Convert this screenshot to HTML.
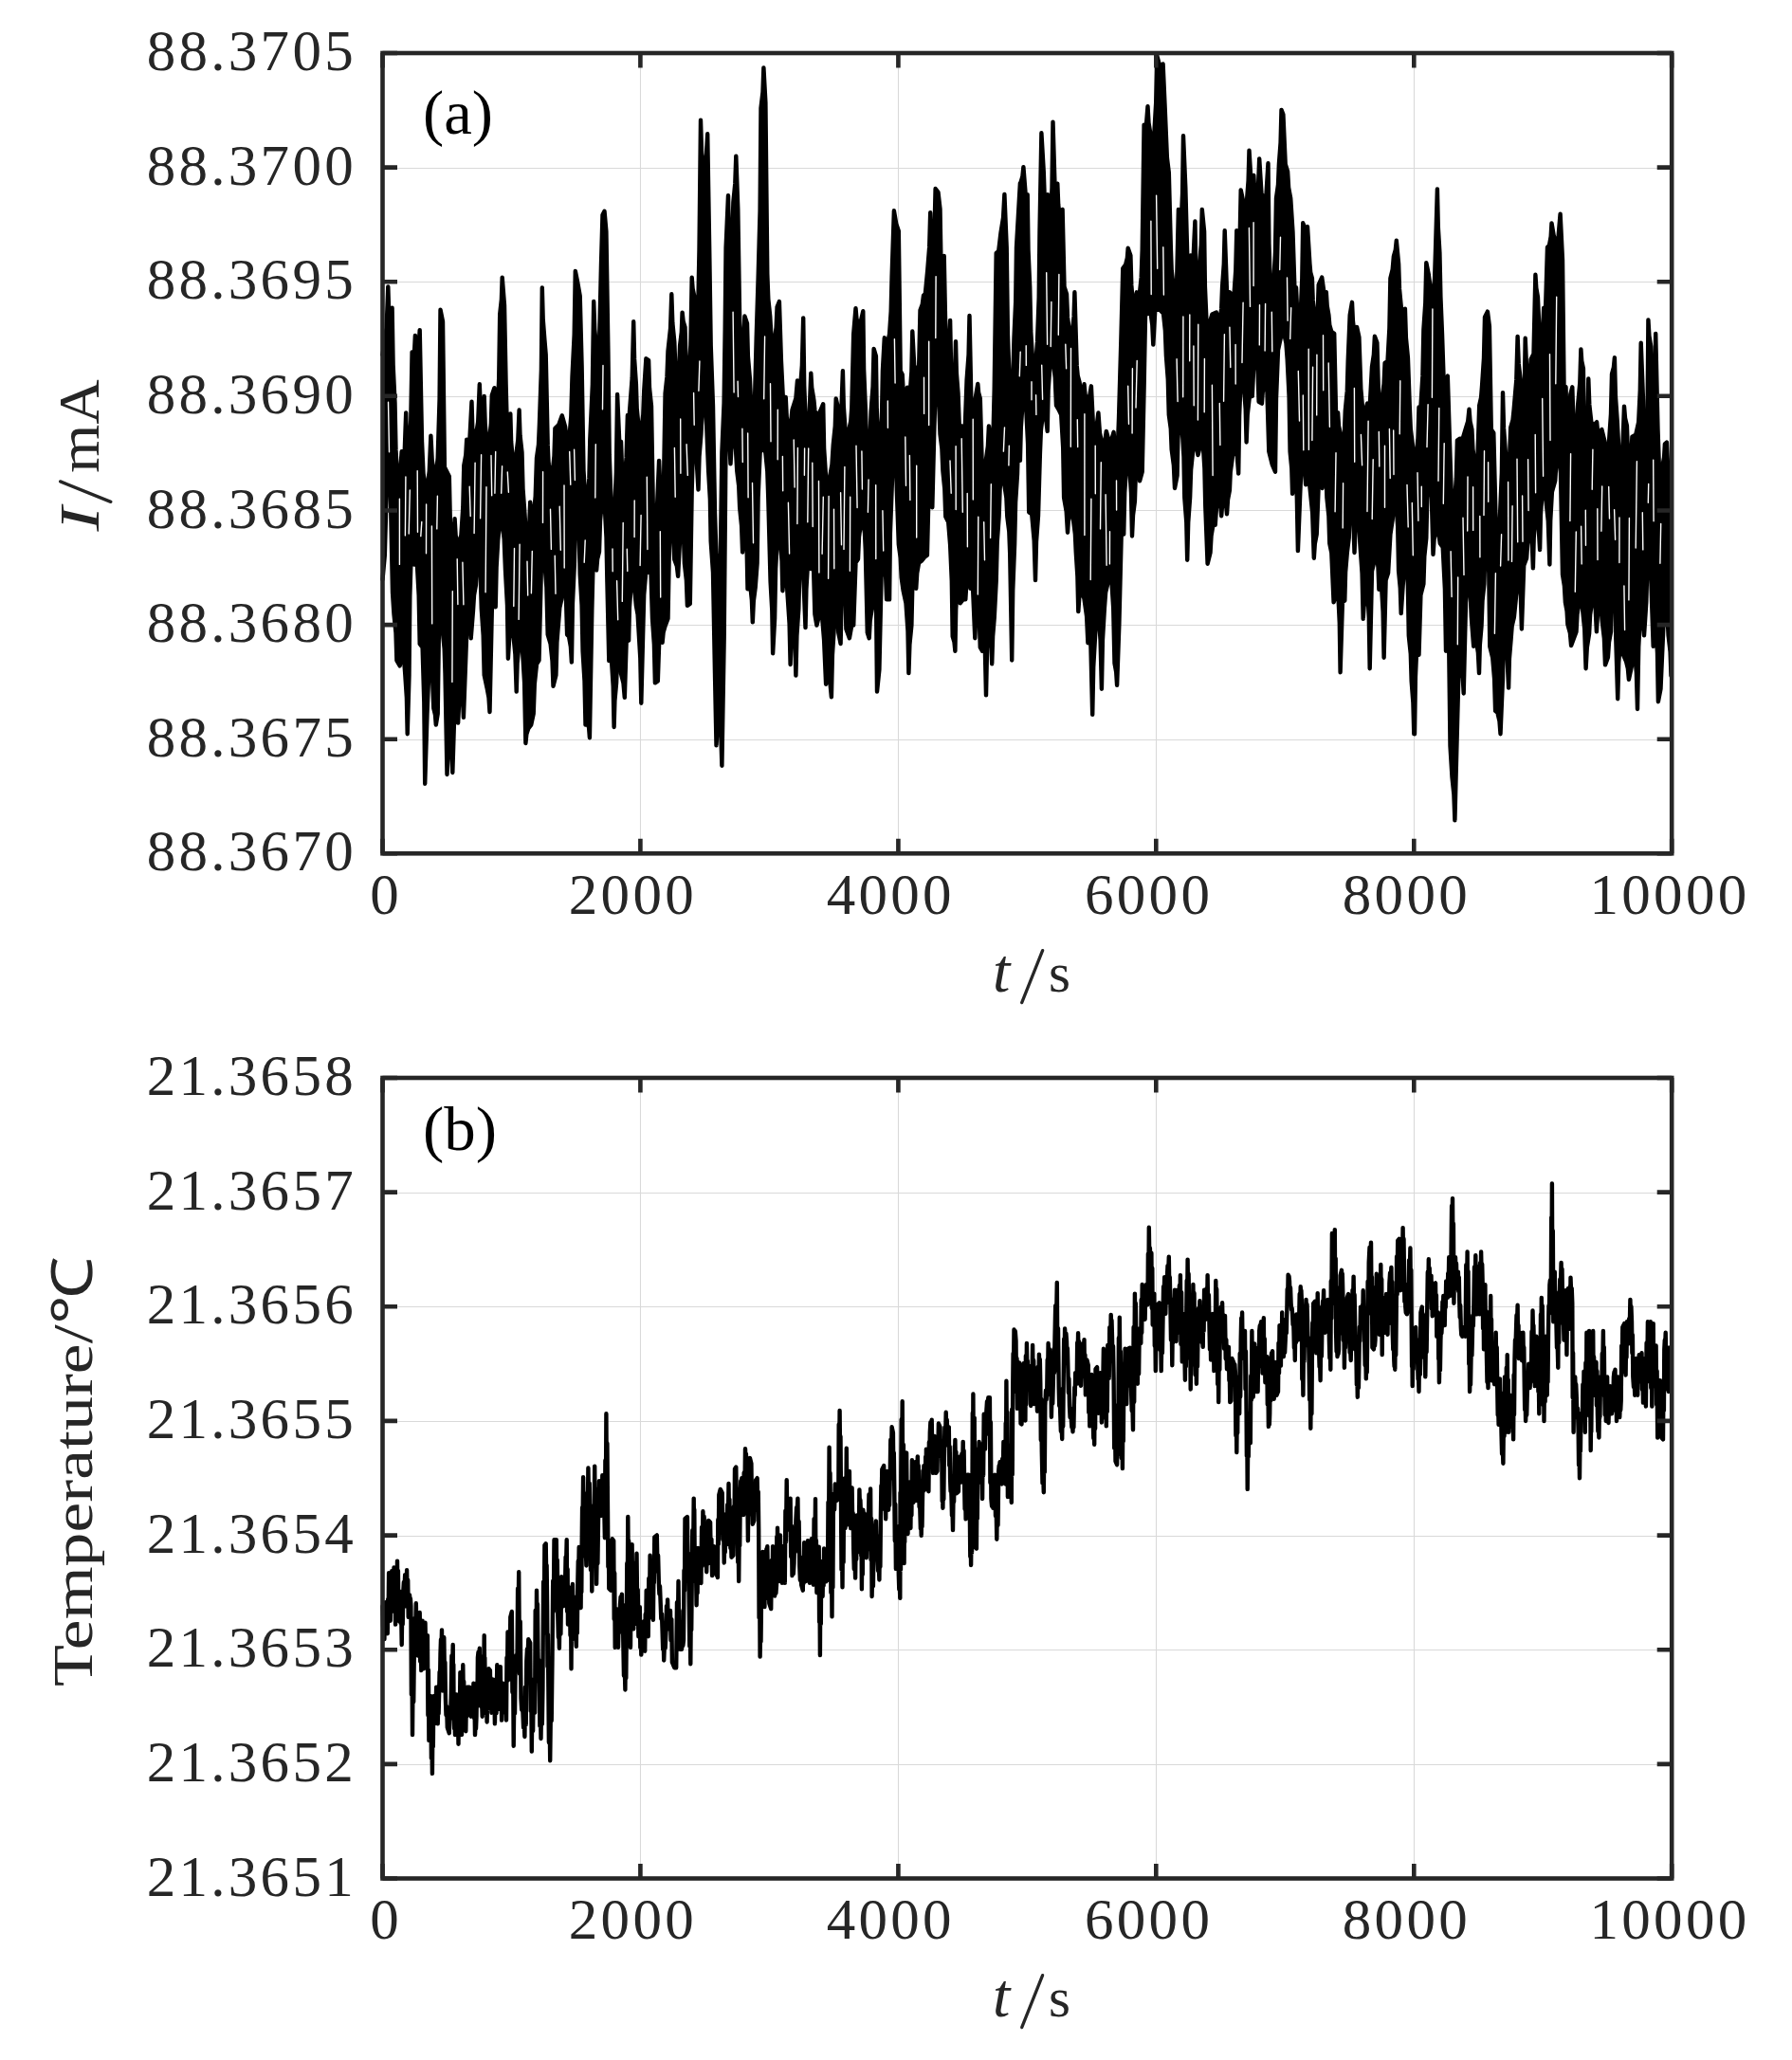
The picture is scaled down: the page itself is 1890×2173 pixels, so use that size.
<!DOCTYPE html><html><head><meta charset="utf-8"><style>html,body{margin:0;padding:0;background:#fff;}svg{display:block}</style></head><body><svg width="1890" height="2173" viewBox="0 0 1890 2173"><rect width="1890" height="2173" fill="#fff"/><g stroke="#d9d9d9" stroke-width="1.1"><line x1="675.5" y1="56.0" x2="675.5" y2="900.3"/><line x1="947.5" y1="56.0" x2="947.5" y2="900.3"/><line x1="1219.5" y1="56.0" x2="1219.5" y2="900.3"/><line x1="1491.5" y1="56.0" x2="1491.5" y2="900.3"/><line x1="403.5" y1="780.5" x2="1763.2" y2="780.5"/><line x1="403.5" y1="659.5" x2="1763.2" y2="659.5"/><line x1="403.5" y1="538.5" x2="1763.2" y2="538.5"/><line x1="403.5" y1="418.5" x2="1763.2" y2="418.5"/><line x1="403.5" y1="297.5" x2="1763.2" y2="297.5"/><line x1="403.5" y1="177.5" x2="1763.2" y2="177.5"/></g><path d="M403.5 374.3 407.7 345.5 409.3 302.4 411.3 366.5 413.6 324.8 414.6 384.8 416.5 424.8 417.5 474.9 419.4 508.3 422.3 495.4 423.7 476.2 425.8 502.4 428.2 435.4 429.0 468.6 430.7 490.8 433.3 443.0 434.6 371.4 436.3 385.9 437.9 353.9 438.7 373.1 440.4 385.9 442.7 348.1 445.0 465.5 446.5 499.3 449.5 521.8 452.8 497.0 454.4 459.7 455.7 485.3 458.3 502.4 460.6 494.7 461.7 483.0 463.6 420.5 464.5 326.7 467.0 339.3 468.9 492.7 473.8 502.4 474.8 549.0 476.7 580.1 478.6 566.9 479.6 547.1 480.6 564.6 482.5 576.2 486.4 564.6 488.3 535.0 489.3 490.8 491.3 479.9 492.2 463.6 495.1 469.4 497.5 423.8 498.3 452.3 500.0 471.4 504.2 445.0 505.8 405.3 507.8 463.6 509.7 445.3 510.7 418.0 511.7 447.7 513.6 467.5 516.1 465.5 517.9 446.1 518.8 417.0 521.4 409.2 522.3 430.2 524.3 444.2 526.2 399.1 527.2 331.6 528.9 316.0 529.7 292.7 532.0 321.8 533.6 405.3 535.9 492.7 538.3 436.4 539.1 465.5 540.8 485.0 543.7 485.0 546.3 464.0 547.6 432.5 548.5 459.3 550.5 477.2 551.5 515.6 553.4 541.3 554.4 557.6 556.3 568.4 558.3 552.9 559.2 529.6 560.2 542.4 562.1 551.0 564.7 523.8 566.0 483.0 568.0 469.0 568.9 448.1 570.9 390.2 571.8 303.4 572.7 336.6 574.4 358.7 575.7 374.3 577.7 469.4 578.6 489.2 580.6 502.4 582.5 500.5 584.5 481.1 585.4 451.9 589.3 448.1 592.8 438.3 596.1 450.0 597.4 460.5 600.0 467.5 602.3 439.5 603.5 397.6 605.7 352.9 606.8 285.9 609.3 298.5 611.7 312.1 613.6 385.9 615.5 496.6 616.8 517.6 619.4 531.6 621.4 504.4 622.3 463.6 624.9 405.3 626.2 318.0 627.2 347.1 629.1 366.5 631.5 378.2 631.7 378.2 634.0 279.1 635.5 226.7 637.5 222.8 639.4 244.2 641.4 370.4 642.7 479.7 645.4 552.5 647.6 552.9 649.9 498.2 651.1 416.0 653.4 470.0 655.0 465.9 656.0 494.1 658.1 512.9 660.6 482.9 661.9 438.0 663.7 438.3 666.7 398.7 668.2 339.3 669.1 378.9 670.9 405.3 671.7 431.0 673.4 448.1 676.3 453.9 678.3 437.6 679.2 413.1 681.4 378.2 684.1 380.1 685.0 409.2 687.0 428.6 688.9 540.1 692.8 540.1 695.1 485.9 697.3 535.4 699.6 535.4 701.6 415.0 703.5 397.2 704.5 370.4 707.1 346.3 708.3 310.2 709.3 340.5 711.3 360.7 712.6 395.6 715.1 418.9 717.1 364.6 718.8 350.6 719.6 329.6 720.6 338.9 722.5 345.1 723.6 384.8 725.8 411.2 728.4 363.8 729.7 292.7 730.6 304.4 732.2 312.1 734.6 347.1 736.5 313.7 737.5 263.6 739.0 126.7 741.4 205.3 742.7 176.2 745.0 162.2 746.2 141.3 748.2 263.6 749.7 364.6 752.0 428.6 754.0 541.1 755.4 584.3 758.3 613.1 759.4 619.5 761.4 477.2 763.6 425.1 764.7 347.1 765.6 261.7 768.0 206.3 768.8 244.2 770.5 269.4 772.4 246.9 773.4 213.1 775.3 193.7 776.3 164.6 778.3 220.9 780.2 341.3 781.2 364.6 783.1 380.1 785.4 333.5 788.0 341.3 788.9 376.2 790.9 399.5 792.8 438.3 795.7 434.5 797.7 356.8 799.6 294.7 801.6 222.4 802.5 114.1 804.5 97.0 805.4 71.4 807.4 108.3 809.3 288.8 810.3 315.6 812.2 333.5 814.2 368.4 816.5 360.7 818.6 345.9 819.6 323.8 821.9 318.0 823.9 380.1 825.8 418.9 828.7 418.9 829.7 439.9 831.7 453.9 834.2 445.3 835.5 432.5 839.4 420.1 841.0 401.5 843.3 418.9 845.9 385.5 847.2 335.4 848.2 406.5 850.1 453.9 853.0 453.9 855.3 393.7 856.2 408.8 857.9 418.9 858.4 422.3 859.4 432.8 861.4 439.8 864.9 434.0 868.2 426.2 869.1 472.8 871.1 503.9 875.0 503.9 877.5 489.9 878.8 468.9 880.8 449.5 881.7 420.4 884.7 434.0 886.6 453.4 888.9 391.3 889.8 428.5 891.5 453.4 895.3 453.4 897.3 444.1 898.3 430.1 900.2 352.4 902.5 325.2 903.4 335.7 905.0 342.7 907.0 342.7 910.3 328.2 911.1 389.3 912.8 430.1 913.8 460.4 915.7 480.6 917.7 461.9 918.6 434.0 920.6 407.6 921.6 368.0 923.9 375.7 924.7 431.7 926.4 468.9 928.3 472.8 930.0 440.2 930.9 391.3 932.8 356.3 935.5 364.1 938.1 352.4 939.7 328.3 940.6 292.2 942.9 222.3 945.2 235.9 947.8 243.7 949.7 391.3 951.7 395.1 952.5 410.3 954.2 420.4 956.9 408.7 959.4 420.4 961.4 392.0 962.3 349.5 964.3 387.4 966.2 387.4 968.2 430.1 970.5 327.2 972.8 321.0 974.0 311.7 975.9 309.7 978.3 284.5 980.2 260.4 981.2 224.3 982.0 251.1 983.7 268.9 985.6 241.0 986.6 199.0 989.5 202.9 991.5 220.4 993.4 333.0 995.7 269.9 997.7 371.8 1000.2 375.7 1002.1 337.9 1003.1 388.5 1005.0 422.3 1007.0 397.5 1008.0 360.2 1008.8 392.8 1010.5 414.6 1011.8 449.5 1014.8 449.5 1017.7 453.4 1019.6 401.0 1021.6 373.8 1022.5 333.0 1024.5 430.1 1027.4 428.2 1029.3 416.5 1031.3 404.9 1032.1 414.2 1033.8 420.4 1036.1 503.9 1038.7 496.1 1040.0 484.5 1041.9 470.5 1042.9 449.5 1043.9 463.5 1045.8 472.8 1047.8 448.0 1048.7 410.7 1050.7 267.0 1053.2 265.0 1055.5 245.6 1058.1 229.3 1059.4 204.9 1061.7 261.2 1062.9 352.4 1065.2 420.4 1067.2 439.8 1069.5 356.3 1071.2 318.3 1072.0 261.2 1074.0 226.2 1075.9 193.2 1076.5 192.7 1078.4 186.1 1079.4 176.2 1081.7 205.3 1083.7 205.3 1084.5 263.6 1086.2 302.4 1087.2 349.0 1089.1 380.1 1091.1 384.0 1093.0 374.7 1094.0 360.7 1095.7 314.1 1096.5 244.2 1098.4 140.3 1100.8 182.0 1102.7 238.3 1105.0 205.3 1105.9 228.6 1107.6 244.2 1109.5 198.0 1110.5 128.6 1112.8 205.3 1115.3 193.7 1116.2 215.8 1117.9 230.6 1120.6 220.9 1122.5 302.4 1125.0 310.2 1126.0 334.7 1128.0 351.0 1130.9 351.0 1132.6 333.9 1133.4 308.3 1135.7 385.9 1136.7 396.4 1138.6 403.4 1139.6 412.7 1141.6 418.9 1143.5 405.3 1144.5 415.8 1146.4 422.8 1149.4 416.6 1150.9 407.3 1153.2 453.9 1156.1 453.9 1158.4 435.4 1159.9 456.4 1162.9 470.4 1165.5 464.2 1166.8 454.9 1170.7 469.4 1174.6 455.8 1175.5 468.6 1177.5 477.2 1179.2 462.8 1180.0 441.3 1182.3 360.7 1184.3 283.0 1187.2 279.1 1188.9 272.1 1189.7 261.7 1192.4 269.4 1193.3 300.9 1195.0 321.8 1196.9 318.0 1198.8 308.3 1201.7 312.1 1203.7 292.7 1204.7 263.6 1206.6 131.6 1208.5 137.4 1210.5 112.1 1211.5 129.6 1213.4 141.3 1215.3 176.2 1217.3 141.3 1219.2 108.3 1220.2 58.7 1223.1 69.4 1226.6 67.5 1228.5 110.2 1230.9 166.5 1232.8 182.0 1234.8 259.7 1235.7 285.3 1237.7 302.4 1238.6 314.1 1240.6 321.8 1242.9 220.9 1243.8 234.9 1245.4 244.2 1247.1 203.8 1248.0 143.2 1250.3 197.6 1252.6 283.0 1255.7 269.4 1258.1 283.0 1260.4 233.5 1261.2 281.8 1262.9 314.1 1264.9 283.0 1266.8 258.2 1267.8 220.9 1270.1 244.2 1270.9 302.4 1272.6 341.3 1275.5 341.3 1278.4 331.6 1282.9 329.6 1286.2 341.3 1288.2 325.7 1289.1 302.4 1290.8 278.7 1291.7 243.2 1294.0 308.3 1296.9 308.3 1297.5 309.1 1301.4 313.0 1303.3 285.0 1304.3 243.1 1305.2 261.7 1307.2 274.2 1308.7 200.4 1311.1 212.0 1313.0 237.3 1315.0 212.0 1316.6 190.7 1317.5 158.6 1319.8 196.5 1322.3 184.9 1323.2 202.3 1325.0 214.0 1327.1 195.3 1328.2 167.4 1330.5 204.3 1332.8 208.2 1335.3 208.2 1337.5 172.2 1338.4 256.7 1340.2 313.0 1343.1 303.3 1345.0 265.6 1346.0 209.1 1348.0 194.8 1348.9 173.2 1350.6 150.3 1351.5 115.9 1353.4 120.8 1355.7 173.2 1358.1 181.0 1359.1 197.9 1361.2 209.1 1363.5 245.0 1365.4 303.3 1367.0 303.3 1369.3 351.8 1371.7 332.4 1373.3 293.6 1374.2 235.3 1376.7 241.2 1379.0 239.2 1381.4 278.1 1382.2 287.4 1383.9 293.6 1384.7 316.9 1386.4 332.4 1388.7 361.6 1390.7 300.4 1394.2 292.6 1396.5 309.1 1398.8 308.2 1399.7 322.7 1401.4 332.4 1402.3 342.9 1404.3 349.9 1407.2 351.8 1409.1 439.2 1411.1 435.3 1412.0 449.3 1414.0 458.6 1415.0 473.8 1416.9 483.9 1418.8 433.4 1420.8 412.4 1421.7 381.0 1423.7 332.4 1426.0 318.8 1426.9 338.6 1428.5 351.8 1431.1 345.0 1433.4 355.7 1435.3 410.1 1437.3 433.4 1439.2 435.3 1442.1 425.6 1444.7 429.5 1447.0 386.8 1448.9 374.0 1449.9 354.8 1452.4 361.6 1454.8 445.0 1456.7 435.0 1457.7 419.8 1459.6 405.0 1460.6 382.9 1463.5 381.0 1465.4 346.0 1466.4 293.6 1468.7 284.3 1469.9 270.3 1471.8 263.7 1472.8 253.8 1475.1 278.1 1476.0 304.9 1477.7 322.7 1480.0 351.8 1481.9 325.6 1482.9 356.5 1484.9 377.1 1486.8 429.5 1487.8 452.8 1489.7 468.3 1491.0 477.7 1493.6 483.9 1495.5 462.1 1496.5 429.5 1498.4 429.5 1500.4 396.9 1501.4 348.0 1503.3 319.6 1504.3 277.1 1506.8 289.7 1509.1 307.2 1511.5 313.0 1513.1 293.6 1514.0 264.5 1515.9 199.4 1516.8 239.6 1518.4 266.4 1519.4 313.1 1521.0 351.9 1522.9 408.3 1526.8 396.6 1529.1 470.4 1531.1 530.6 1534.0 530.6 1535.9 504.2 1536.9 464.6 1539.8 462.6 1542.7 462.6 1545.6 452.9 1548.2 444.4 1549.5 431.6 1550.5 444.4 1552.4 452.9 1553.4 473.9 1555.3 487.9 1557.9 499.5 1560.2 427.7 1562.1 419.1 1563.1 406.3 1565.0 377.6 1566.0 334.5 1568.9 328.6 1570.9 344.2 1572.8 452.9 1575.3 456.8 1577.7 553.9 1581.6 553.9 1583.9 498.0 1585.0 414.1 1586.0 451.4 1587.8 476.2 1588.6 490.2 1590.3 499.5 1592.2 480.1 1593.2 451.0 1595.5 443.2 1596.7 431.6 1599.3 400.9 1600.6 354.9 1601.7 383.4 1603.9 402.4 1605.8 451.0 1607.8 413.3 1608.7 356.8 1611.1 412.1 1613.4 398.9 1614.6 379.1 1617.5 373.3 1619.4 289.8 1620.3 303.8 1621.9 313.1 1624.3 369.4 1626.2 369.4 1628.2 324.8 1630.1 324.8 1632.0 260.7 1634.0 258.7 1635.7 249.4 1636.5 235.4 1638.8 249.0 1641.4 256.8 1643.3 252.9 1645.6 225.7 1648.0 274.3 1649.5 406.3 1651.5 408.3 1652.4 439.7 1654.4 460.7 1656.3 416.0 1658.3 408.3 1659.2 437.4 1661.2 456.8 1663.1 445.1 1664.1 427.7 1666.3 404.0 1667.4 368.4 1668.2 380.7 1669.9 388.8 1670.7 449.4 1672.4 489.8 1674.4 453.7 1675.3 399.5 1676.3 426.9 1678.3 445.1 1680.6 449.0 1684.1 445.1 1685.0 454.5 1686.8 460.7 1689.3 452.9 1692.2 464.6 1694.2 480.1 1696.1 473.9 1697.1 464.6 1699.0 436.6 1700.0 394.7 1701.9 387.7 1702.9 377.2 1703.9 418.0 1705.8 445.1 1708.2 491.7 1710.7 491.7 1713.0 428.6 1714.0 440.9 1715.9 449.0 1716.8 474.7 1718.4 491.7 1720.4 479.3 1721.4 460.7 1725.2 458.7 1728.2 445.1 1729.8 411.7 1730.7 361.7 1733.0 421.8 1734.0 468.4 1735.9 499.5 1737.6 434.7 1738.4 337.4 1739.4 354.3 1741.2 365.5 1742.0 399.3 1743.7 421.8 1745.4 393.9 1746.2 351.9 1748.5 452.9 1750.5 511.2 1752.4 503.4 1753.4 491.7 1755.1 482.4 1755.9 468.4 1757.9 466.5 1760.2 517.0 1762.5 517.0 1763.2 517.0 1763.2 713.0 1762.5 713.0 1761.6 687.4 1759.6 670.3 1758.6 649.3 1756.7 635.3 1754.8 650.9 1753.8 674.2 1751.5 726.6 1748.9 740.2 1748.0 688.9 1746.0 654.8 1743.7 681.9 1742.1 635.3 1739.8 561.6 1737.5 591.1 1736.3 635.3 1734.0 670.3 1732.8 651.7 1730.5 639.2 1728.2 682.7 1727.0 748.0 1725.9 709.5 1723.7 683.9 1721.7 691.7 1720.8 703.3 1717.9 716.9 1716.9 705.2 1715.0 697.5 1711.5 689.7 1709.1 674.2 1707.2 699.4 1706.2 737.3 1704.3 674.2 1702.3 567.4 1700.1 607.0 1699.0 666.4 1697.0 677.3 1695.9 693.6 1693.0 701.4 1691.9 673.4 1689.7 654.8 1688.7 643.1 1686.8 635.3 1684.9 647.8 1683.9 666.4 1681.9 625.6 1679.0 635.3 1677.1 648.5 1676.1 668.3 1673.8 683.1 1672.6 705.2 1671.2 663.3 1668.3 635.3 1665.4 635.3 1663.5 647.8 1662.5 666.4 1659.6 674.2 1657.1 681.0 1655.9 667.6 1653.4 658.6 1652.6 644.7 1650.9 635.3 1649.9 617.9 1648.0 606.2 1646.0 499.4 1645.0 487.8 1643.1 480.0 1641.2 490.9 1640.2 507.2 1636.9 518.8 1635.2 549.5 1634.4 595.5 1632.8 549.5 1629.5 518.8 1626.6 518.8 1624.9 543.3 1624.1 580.0 1621.7 538.3 1619.4 546.0 1617.7 567.4 1616.9 599.4 1615.9 574.4 1614.0 557.7 1611.4 570.1 1610.1 588.7 1607.2 596.5 1604.9 663.5 1603.9 629.1 1601.9 606.2 1599.9 616.3 1598.8 631.5 1596.9 650.9 1594.7 660.2 1593.6 674.2 1591.9 694.8 1591.1 725.6 1588.7 674.2 1586.8 615.9 1584.9 716.9 1582.5 774.2 1581.5 760.8 1579.4 751.8 1577.1 749.9 1576.1 716.1 1574.2 693.6 1571.3 681.9 1570.3 605.0 1568.3 553.8 1566.4 578.6 1565.4 615.9 1563.5 633.8 1562.5 660.6 1560.8 680.4 1560.0 710.1 1558.9 688.5 1556.7 674.2 1554.2 681.9 1551.8 650.9 1550.9 629.9 1548.9 615.9 1547.0 623.7 1546.0 635.3 1543.7 731.5 1542.8 714.6 1541.2 703.3 1538.3 715.0 1536.3 790.7 1534.4 865.4 1533.4 838.1 1531.5 819.8 1529.5 786.8 1527.6 635.3 1525.9 655.9 1525.0 686.8 1523.9 621.0 1521.7 577.1 1518.8 573.2 1517.5 563.9 1515.0 557.7 1512.6 568.5 1511.5 584.9 1509.1 495.5 1507.2 499.4 1505.2 526.6 1504.3 567.4 1502.3 586.8 1501.4 615.9 1498.4 627.6 1496.5 690.7 1494.6 674.2 1492.9 714.2 1492.0 774.2 1491.3 774.1 1490.4 741.0 1488.7 718.9 1487.8 689.8 1485.8 670.4 1484.9 618.0 1482.9 583.0 1481.0 594.7 1480.0 612.1 1477.7 647.1 1476.8 620.3 1475.1 602.4 1474.2 555.8 1472.2 524.8 1469.9 534.1 1468.7 548.1 1466.4 563.6 1464.1 604.4 1461.6 612.1 1459.6 693.7 1458.6 644.8 1456.7 612.1 1454.4 621.8 1453.5 598.5 1451.8 583.0 1449.3 592.7 1447.0 602.4 1444.7 705.3 1443.8 651.7 1442.1 616.0 1440.2 631.6 1438.5 640.1 1437.7 652.9 1436.6 605.1 1434.4 573.3 1433.4 553.5 1431.5 540.3 1429.5 557.4 1428.5 583.0 1427.4 548.1 1425.2 524.8 1423.6 541.8 1422.7 567.5 1420.8 583.0 1419.1 603.2 1418.3 633.5 1415.9 635.4 1413.6 709.2 1412.8 656.8 1411.1 621.8 1409.1 627.7 1406.6 635.4 1404.3 583.0 1402.3 573.3 1401.4 544.2 1399.4 524.8 1397.5 466.5 1395.5 485.9 1394.6 515.0 1391.1 501.5 1388.7 563.6 1386.8 573.7 1385.8 588.8 1384.2 541.1 1381.0 509.2 1377.1 511.2 1376.1 496.0 1374.2 485.9 1372.2 499.1 1371.3 518.9 1368.9 581.1 1367.8 524.0 1365.4 485.9 1363.1 520.9 1362.3 494.1 1360.6 476.2 1359.6 418.0 1357.7 379.1 1356.4 361.7 1353.8 350.0 1350.9 355.8 1348.0 369.4 1346.0 420.7 1345.0 497.6 1341.7 489.8 1338.3 476.2 1336.3 408.3 1333.4 406.3 1331.7 414.1 1330.9 425.7 1327.6 423.8 1326.6 391.2 1324.7 369.4 1322.1 388.8 1320.8 418.0 1317.9 418.0 1315.7 437.4 1314.6 466.5 1313.7 431.6 1312.0 408.3 1308.7 398.5 1307.1 438.9 1306.2 499.5 1304.9 482.0 1302.3 470.4 1300.4 476.6 1299.4 485.9 1297.7 498.3 1296.9 517.0 1296.9 517.0 1295.0 527.1 1294.0 542.2 1293.0 531.7 1291.1 524.8 1289.1 532.5 1288.2 544.2 1287.2 532.5 1285.2 524.8 1282.9 536.4 1281.7 553.9 1279.4 553.9 1277.5 565.5 1276.5 583.0 1273.6 594.7 1271.3 534.5 1270.4 493.7 1268.7 466.5 1265.8 470.4 1263.5 480.1 1261.0 466.5 1258.1 476.2 1256.1 495.6 1255.1 524.8 1253.2 551.2 1252.2 590.8 1251.3 551.2 1249.3 524.8 1248.5 481.7 1246.8 452.9 1245.9 443.6 1244.1 437.4 1242.4 463.0 1241.6 501.5 1239.0 515.0 1237.9 490.6 1235.7 474.3 1234.8 452.1 1232.8 437.4 1231.8 400.1 1229.9 375.2 1228.9 348.4 1227.0 330.6 1223.1 326.7 1218.3 326.7 1216.3 363.6 1215.3 342.6 1213.4 328.6 1208.0 332.5 1206.6 408.3 1204.7 497.6 1202.1 507.3 1201.2 494.5 1199.4 485.9 1197.7 503.0 1196.9 528.6 1195.0 543.4 1194.0 565.5 1193.0 520.1 1191.1 489.8 1188.2 489.8 1186.2 519.3 1185.2 563.6 1182.7 563.6 1180.4 656.8 1178.1 722.8 1177.2 708.8 1175.5 699.5 1174.2 641.3 1171.7 602.4 1168.7 614.1 1166.1 625.0 1164.9 641.3 1162.9 675.4 1161.9 726.7 1160.6 675.4 1158.1 641.3 1156.1 652.9 1155.1 670.4 1153.2 703.8 1152.2 753.9 1150.3 676.2 1147.4 678.2 1146.1 650.2 1143.5 631.6 1140.0 621.8 1138.2 631.2 1137.3 645.1 1136.4 607.9 1134.8 583.0 1133.9 563.2 1132.2 550.0 1128.9 536.4 1127.0 546.5 1126.0 561.7 1124.7 539.5 1122.1 524.8 1121.2 472.3 1119.2 437.4 1116.3 431.6 1114.0 427.7 1112.8 398.5 1110.5 379.1 1107.6 383.0 1105.6 411.7 1104.7 454.9 1102.7 437.4 1099.8 437.4 1097.9 453.7 1096.9 478.2 1095.0 544.2 1093.0 571.4 1092.0 612.1 1090.7 570.2 1088.2 542.2 1085.2 540.3 1084.1 468.1 1081.7 419.9 1078.4 427.7 1076.8 451.0 1075.9 485.9 1075.9 438.3 1074.0 463.1 1073.0 500.4 1071.1 529.9 1070.1 574.2 1068.2 623.1 1067.2 696.5 1065.2 583.9 1064.3 560.6 1062.3 545.0 1061.4 525.2 1059.4 512.0 1058.4 502.7 1056.5 496.5 1054.6 515.9 1053.6 545.0 1051.7 572.2 1050.7 613.0 1048.7 651.8 1047.1 671.3 1046.2 700.4 1045.1 671.3 1042.9 651.8 1041.0 684.5 1040.0 733.4 1038.1 651.8 1036.1 686.8 1033.8 682.9 1032.9 652.6 1031.3 632.4 1029.3 648.7 1028.3 673.2 1026.0 618.8 1023.5 620.8 1022.5 604.5 1020.6 593.6 1018.3 632.4 1015.7 632.4 1012.8 636.3 1011.8 622.3 1009.9 613.0 1008.2 642.5 1007.4 686.8 1006.5 677.5 1004.7 671.3 1003.8 613.0 1002.1 574.2 1000.2 550.9 997.3 545.0 996.3 515.9 994.4 496.5 993.4 473.2 991.5 457.7 990.3 425.0 988.0 403.3 986.1 425.0 985.2 457.7 983.3 535.3 982.1 517.9 979.8 506.2 977.9 585.8 975.0 587.8 972.0 591.7 969.1 593.6 967.2 604.5 966.2 620.8 965.2 592.8 963.3 574.2 961.4 659.6 959.4 679.8 958.4 710.1 957.5 665.8 955.5 636.3 952.6 622.7 950.7 609.1 949.7 588.2 947.8 574.2 945.8 515.9 944.9 481.0 942.9 457.7 940.6 515.9 938.9 562.5 938.1 632.4 935.1 632.4 934.2 609.1 932.2 593.6 929.7 603.3 927.4 706.2 925.0 729.5 924.2 649.1 922.5 595.5 920.6 614.2 919.6 642.1 917.7 654.6 916.7 673.2 914.8 667.4 912.8 580.0 912.0 562.5 910.3 550.9 908.0 550.9 906.0 566.4 905.0 589.7 902.5 593.6 900.2 659.6 898.3 659.6 895.9 673.2 892.4 663.5 891.5 623.9 889.5 597.5 887.6 630.1 886.6 679.0 884.3 667.4 883.4 640.6 881.7 622.7 879.8 661.6 877.9 691.1 876.9 735.3 875.7 722.5 873.4 714.0 871.1 721.7 869.1 675.1 867.2 651.8 864.3 648.0 861.4 659.6 859.4 648.0 857.9 593.6 857.9 594.2 855.0 600.0 852.0 594.2 850.4 621.4 849.5 662.1 847.2 603.9 845.2 574.8 843.3 601.9 842.3 642.7 840.4 670.7 839.4 712.6 838.4 676.5 836.5 652.4 834.6 671.8 833.6 701.0 832.6 657.9 830.7 629.1 829.8 614.0 828.2 603.9 826.3 611.7 825.4 623.3 824.6 591.8 822.9 570.9 820.0 565.0 818.1 600.0 817.1 652.4 815.1 689.3 814.3 643.9 812.6 613.6 810.3 526.2 809.3 497.1 807.4 477.7 804.5 469.9 801.6 477.7 799.6 524.3 798.6 594.2 796.7 619.4 794.8 634.2 793.8 656.3 792.9 633.0 791.3 617.5 788.5 621.4 787.7 581.7 786.0 555.3 784.1 566.2 783.1 582.5 782.1 554.6 780.2 535.9 779.2 512.6 777.3 497.1 776.0 473.8 773.4 458.3 771.5 470.7 770.5 489.3 769.5 468.3 767.6 454.4 765.6 458.3 763.7 671.8 761.4 807.8 760.2 769.3 757.9 743.7 755.5 786.4 754.0 710.7 752.0 603.9 749.7 570.9 748.9 526.6 747.2 497.1 745.2 448.5 744.3 433.4 742.3 423.3 740.4 437.3 739.4 458.3 737.5 481.6 736.5 516.5 734.6 483.5 732.2 464.1 730.6 485.0 729.7 516.5 727.8 636.9 724.9 638.8 723.9 612.0 721.9 594.2 720.0 532.0 718.1 546.8 717.1 568.9 715.1 607.8 713.9 597.3 711.3 590.3 708.9 545.6 706.4 547.6 704.5 652.4 701.6 660.2 699.6 667.2 698.6 677.7 697.7 668.3 695.7 662.1 693.8 718.4 690.9 720.4 689.9 679.6 688.0 652.4 686.0 586.4 684.1 603.9 681.2 603.9 679.2 627.2 678.3 662.1 676.3 741.7 675.3 694.0 673.4 662.1 672.6 648.2 670.9 638.8 668.5 613.6 665.6 617.5 663.9 640.8 663.1 675.7 660.8 671.8 658.8 735.9 657.5 720.8 655.0 710.7 654.0 685.0 652.0 668.0 650.1 720.4 648.4 739.0 647.6 767.0 646.7 723.9 644.9 695.1 642.3 697.1 640.4 613.6 639.5 567.0 637.9 535.9 637.9 527.7 635.0 527.7 633.0 549.4 632.0 582.0 630.1 589.8 629.1 601.5 628.2 580.5 626.2 566.5 624.3 644.2 621.9 778.2 621.1 767.7 619.4 760.7 617.5 764.6 616.5 718.0 614.6 686.9 613.6 638.0 611.7 605.3 610.7 561.1 608.7 531.6 606.8 557.2 605.8 595.6 603.9 636.8 602.9 698.5 601.9 682.2 600.0 671.4 598.1 669.4 597.1 634.5 595.1 611.2 593.2 619.7 592.2 632.5 590.3 641.1 589.3 653.9 587.4 677.2 586.4 712.1 583.5 723.8 582.5 697.0 580.6 679.1 577.7 669.4 576.4 619.3 573.8 585.9 570.9 597.6 568.5 696.6 566.0 700.5 563.8 721.5 562.7 752.9 560.2 764.6 557.3 768.4 555.3 774.7 554.4 784.0 553.1 719.9 550.5 677.2 547.6 679.1 545.6 699.3 544.7 729.6 543.4 690.0 540.8 663.6 538.3 653.9 535.9 694.7 535.0 638.7 533.0 601.5 531.7 568.8 529.1 547.1 526.5 556.4 525.2 570.4 523.6 598.3 522.7 640.3 520.4 620.9 518.8 644.2 516.5 751.0 515.5 735.8 513.6 725.7 510.7 712.1 509.7 670.2 507.8 642.2 506.8 608.4 504.9 585.9 502.9 598.3 501.9 617.0 500.0 627.9 499.0 644.2 496.7 673.3 495.9 659.3 494.2 650.0 492.2 667.1 491.3 692.7 488.9 756.8 487.8 731.2 485.4 714.1 483.1 762.6 481.9 749.8 479.6 741.3 477.3 815.0 476.1 787.1 473.8 768.4 471.5 817.0 469.5 710.2 468.7 684.6 467.0 667.5 466.0 612.7 464.1 576.2 461.7 752.9 459.8 764.6 459.0 754.1 457.3 747.1 455.3 694.7 452.4 706.3 450.5 752.9 448.2 826.7 447.3 740.5 445.6 683.0 442.7 679.1 441.7 627.9 439.8 593.7 436.9 595.6 435.9 582.8 434.0 574.3 432.3 629.4 431.5 712.1 429.7 774.3 428.9 735.8 427.2 710.2 426.2 697.4 424.3 688.8 421.7 702.4 418.4 696.6 417.5 667.5 415.5 648.1 414.0 624.8 411.7 512.1 407.8 514.1 405.8 585.9 403.5 611.2 403.5 611.2Z" fill="#000" stroke="none"/><path d="M403.5 374.3 407.7 345.5 409.3 302.4 411.3 366.5 413.6 324.8 414.6 384.8 416.5 424.8 417.5 474.9 419.4 508.3 422.3 495.4 423.7 476.2 425.8 502.4 428.2 435.4 429.0 468.6 430.7 490.8 433.3 443.0 434.6 371.4 436.3 385.9 437.9 353.9 438.7 373.1 440.4 385.9 442.7 348.1 445.0 465.5 446.5 499.3 449.5 521.8 452.8 497.0 454.4 459.7 455.7 485.3 458.3 502.4 460.6 494.7 461.7 483.0 463.6 420.5 464.5 326.7 467.0 339.3 468.9 492.7 473.8 502.4 474.8 549.0 476.7 580.1 478.6 566.9 479.6 547.1 480.6 564.6 482.5 576.2 486.4 564.6 488.3 535.0 489.3 490.8 491.3 479.9 492.2 463.6 495.1 469.4 497.5 423.8 498.3 452.3 500.0 471.4 504.2 445.0 505.8 405.3 507.8 463.6 509.7 445.3 510.7 418.0 511.7 447.7 513.6 467.5 516.1 465.5 517.9 446.1 518.8 417.0 521.4 409.2 522.3 430.2 524.3 444.2 526.2 399.1 527.2 331.6 528.9 316.0 529.7 292.7 532.0 321.8 533.6 405.3 535.9 492.7 538.3 436.4 539.1 465.5 540.8 485.0 543.7 485.0 546.3 464.0 547.6 432.5 548.5 459.3 550.5 477.2 551.5 515.6 553.4 541.3 554.4 557.6 556.3 568.4 558.3 552.9 559.2 529.6 560.2 542.4 562.1 551.0 564.7 523.8 566.0 483.0 568.0 469.0 568.9 448.1 570.9 390.2 571.8 303.4 572.7 336.6 574.4 358.7 575.7 374.3 577.7 469.4 578.6 489.2 580.6 502.4 582.5 500.5 584.5 481.1 585.4 451.9 589.3 448.1 592.8 438.3 596.1 450.0 597.4 460.5 600.0 467.5 602.3 439.5 603.5 397.6 605.7 352.9 606.8 285.9 609.3 298.5 611.7 312.1 613.6 385.9 615.5 496.6 616.8 517.6 619.4 531.6 621.4 504.4 622.3 463.6 624.9 405.3 626.2 318.0 627.2 347.1 629.1 366.5 631.5 378.2 631.7 378.2 634.0 279.1 635.5 226.7 637.5 222.8 639.4 244.2 641.4 370.4 642.7 479.7 645.4 552.5 647.6 552.9 649.9 498.2 651.1 416.0 653.4 470.0 655.0 465.9 656.0 494.1 658.1 512.9 660.6 482.9 661.9 438.0 663.7 438.3 666.7 398.7 668.2 339.3 669.1 378.9 670.9 405.3 671.7 431.0 673.4 448.1 676.3 453.9 678.3 437.6 679.2 413.1 681.4 378.2 684.1 380.1 685.0 409.2 687.0 428.6 688.9 540.1 692.8 540.1 695.1 485.9 697.3 535.4 699.6 535.4 701.6 415.0 703.5 397.2 704.5 370.4 707.1 346.3 708.3 310.2 709.3 340.5 711.3 360.7 712.6 395.6 715.1 418.9 717.1 364.6 718.8 350.6 719.6 329.6 720.6 338.9 722.5 345.1 723.6 384.8 725.8 411.2 728.4 363.8 729.7 292.7 730.6 304.4 732.2 312.1 734.6 347.1 736.5 313.7 737.5 263.6 739.0 126.7 741.4 205.3 742.7 176.2 745.0 162.2 746.2 141.3 748.2 263.6 749.7 364.6 752.0 428.6 754.0 541.1 755.4 584.3 758.3 613.1 759.4 619.5 761.4 477.2 763.6 425.1 764.7 347.1 765.6 261.7 768.0 206.3 768.8 244.2 770.5 269.4 772.4 246.9 773.4 213.1 775.3 193.7 776.3 164.6 778.3 220.9 780.2 341.3 781.2 364.6 783.1 380.1 785.4 333.5 788.0 341.3 788.9 376.2 790.9 399.5 792.8 438.3 795.7 434.5 797.7 356.8 799.6 294.7 801.6 222.4 802.5 114.1 804.5 97.0 805.4 71.4 807.4 108.3 809.3 288.8 810.3 315.6 812.2 333.5 814.2 368.4 816.5 360.7 818.6 345.9 819.6 323.8 821.9 318.0 823.9 380.1 825.8 418.9 828.7 418.9 829.7 439.9 831.7 453.9 834.2 445.3 835.5 432.5 839.4 420.1 841.0 401.5 843.3 418.9 845.9 385.5 847.2 335.4 848.2 406.5 850.1 453.9 853.0 453.9 855.3 393.7 856.2 408.8 857.9 418.9 858.4 422.3 859.4 432.8 861.4 439.8 864.9 434.0 868.2 426.2 869.1 472.8 871.1 503.9 875.0 503.9 877.5 489.9 878.8 468.9 880.8 449.5 881.7 420.4 884.7 434.0 886.6 453.4 888.9 391.3 889.8 428.5 891.5 453.4 895.3 453.4 897.3 444.1 898.3 430.1 900.2 352.4 902.5 325.2 903.4 335.7 905.0 342.7 907.0 342.7 910.3 328.2 911.1 389.3 912.8 430.1 913.8 460.4 915.7 480.6 917.7 461.9 918.6 434.0 920.6 407.6 921.6 368.0 923.9 375.7 924.7 431.7 926.4 468.9 928.3 472.8 930.0 440.2 930.9 391.3 932.8 356.3 935.5 364.1 938.1 352.4 939.7 328.3 940.6 292.2 942.9 222.3 945.2 235.9 947.8 243.7 949.7 391.3 951.7 395.1 952.5 410.3 954.2 420.4 956.9 408.7 959.4 420.4 961.4 392.0 962.3 349.5 964.3 387.4 966.2 387.4 968.2 430.1 970.5 327.2 972.8 321.0 974.0 311.7 975.9 309.7 978.3 284.5 980.2 260.4 981.2 224.3 982.0 251.1 983.7 268.9 985.6 241.0 986.6 199.0 989.5 202.9 991.5 220.4 993.4 333.0 995.7 269.9 997.7 371.8 1000.2 375.7 1002.1 337.9 1003.1 388.5 1005.0 422.3 1007.0 397.5 1008.0 360.2 1008.8 392.8 1010.5 414.6 1011.8 449.5 1014.8 449.5 1017.7 453.4 1019.6 401.0 1021.6 373.8 1022.5 333.0 1024.5 430.1 1027.4 428.2 1029.3 416.5 1031.3 404.9 1032.1 414.2 1033.8 420.4 1036.1 503.9 1038.7 496.1 1040.0 484.5 1041.9 470.5 1042.9 449.5 1043.9 463.5 1045.8 472.8 1047.8 448.0 1048.7 410.7 1050.7 267.0 1053.2 265.0 1055.5 245.6 1058.1 229.3 1059.4 204.9 1061.7 261.2 1062.9 352.4 1065.2 420.4 1067.2 439.8 1069.5 356.3 1071.2 318.3 1072.0 261.2 1074.0 226.2 1075.9 193.2 1076.5 192.7 1078.4 186.1 1079.4 176.2 1081.7 205.3 1083.7 205.3 1084.5 263.6 1086.2 302.4 1087.2 349.0 1089.1 380.1 1091.1 384.0 1093.0 374.7 1094.0 360.7 1095.7 314.1 1096.5 244.2 1098.4 140.3 1100.8 182.0 1102.7 238.3 1105.0 205.3 1105.9 228.6 1107.6 244.2 1109.5 198.0 1110.5 128.6 1112.8 205.3 1115.3 193.7 1116.2 215.8 1117.9 230.6 1120.6 220.9 1122.5 302.4 1125.0 310.2 1126.0 334.7 1128.0 351.0 1130.9 351.0 1132.6 333.9 1133.4 308.3 1135.7 385.9 1136.7 396.4 1138.6 403.4 1139.6 412.7 1141.6 418.9 1143.5 405.3 1144.5 415.8 1146.4 422.8 1149.4 416.6 1150.9 407.3 1153.2 453.9 1156.1 453.9 1158.4 435.4 1159.9 456.4 1162.9 470.4 1165.5 464.2 1166.8 454.9 1170.7 469.4 1174.6 455.8 1175.5 468.6 1177.5 477.2 1179.2 462.8 1180.0 441.3 1182.3 360.7 1184.3 283.0 1187.2 279.1 1188.9 272.1 1189.7 261.7 1192.4 269.4 1193.3 300.9 1195.0 321.8 1196.9 318.0 1198.8 308.3 1201.7 312.1 1203.7 292.7 1204.7 263.6 1206.6 131.6 1208.5 137.4 1210.5 112.1 1211.5 129.6 1213.4 141.3 1215.3 176.2 1217.3 141.3 1219.2 108.3 1220.2 58.7 1223.1 69.4 1226.6 67.5 1228.5 110.2 1230.9 166.5 1232.8 182.0 1234.8 259.7 1235.7 285.3 1237.7 302.4 1238.6 314.1 1240.6 321.8 1242.9 220.9 1243.8 234.9 1245.4 244.2 1247.1 203.8 1248.0 143.2 1250.3 197.6 1252.6 283.0 1255.7 269.4 1258.1 283.0 1260.4 233.5 1261.2 281.8 1262.9 314.1 1264.9 283.0 1266.8 258.2 1267.8 220.9 1270.1 244.2 1270.9 302.4 1272.6 341.3 1275.5 341.3 1278.4 331.6 1282.9 329.6 1286.2 341.3 1288.2 325.7 1289.1 302.4 1290.8 278.7 1291.7 243.2 1294.0 308.3 1296.9 308.3 1297.5 309.1 1301.4 313.0 1303.3 285.0 1304.3 243.1 1305.2 261.7 1307.2 274.2 1308.7 200.4 1311.1 212.0 1313.0 237.3 1315.0 212.0 1316.6 190.7 1317.5 158.6 1319.8 196.5 1322.3 184.9 1323.2 202.3 1325.0 214.0 1327.1 195.3 1328.2 167.4 1330.5 204.3 1332.8 208.2 1335.3 208.2 1337.5 172.2 1338.4 256.7 1340.2 313.0 1343.1 303.3 1345.0 265.6 1346.0 209.1 1348.0 194.8 1348.9 173.2 1350.6 150.3 1351.5 115.9 1353.4 120.8 1355.7 173.2 1358.1 181.0 1359.1 197.9 1361.2 209.1 1363.5 245.0 1365.4 303.3 1367.0 303.3 1369.3 351.8 1371.7 332.4 1373.3 293.6 1374.2 235.3 1376.7 241.2 1379.0 239.2 1381.4 278.1 1382.2 287.4 1383.9 293.6 1384.7 316.9 1386.4 332.4 1388.7 361.6 1390.7 300.4 1394.2 292.6 1396.5 309.1 1398.8 308.2 1399.7 322.7 1401.4 332.4 1402.3 342.9 1404.3 349.9 1407.2 351.8 1409.1 439.2 1411.1 435.3 1412.0 449.3 1414.0 458.6 1415.0 473.8 1416.9 483.9 1418.8 433.4 1420.8 412.4 1421.7 381.0 1423.7 332.4 1426.0 318.8 1426.9 338.6 1428.5 351.8 1431.1 345.0 1433.4 355.7 1435.3 410.1 1437.3 433.4 1439.2 435.3 1442.1 425.6 1444.7 429.5 1447.0 386.8 1448.9 374.0 1449.9 354.8 1452.4 361.6 1454.8 445.0 1456.7 435.0 1457.7 419.8 1459.6 405.0 1460.6 382.9 1463.5 381.0 1465.4 346.0 1466.4 293.6 1468.7 284.3 1469.9 270.3 1471.8 263.7 1472.8 253.8 1475.1 278.1 1476.0 304.9 1477.7 322.7 1480.0 351.8 1481.9 325.6 1482.9 356.5 1484.9 377.1 1486.8 429.5 1487.8 452.8 1489.7 468.3 1491.0 477.7 1493.6 483.9 1495.5 462.1 1496.5 429.5 1498.4 429.5 1500.4 396.9 1501.4 348.0 1503.3 319.6 1504.3 277.1 1506.8 289.7 1509.1 307.2 1511.5 313.0 1513.1 293.6 1514.0 264.5 1515.9 199.4 1516.8 239.6 1518.4 266.4 1519.4 313.1 1521.0 351.9 1522.9 408.3 1526.8 396.6 1529.1 470.4 1531.1 530.6 1534.0 530.6 1535.9 504.2 1536.9 464.6 1539.8 462.6 1542.7 462.6 1545.6 452.9 1548.2 444.4 1549.5 431.6 1550.5 444.4 1552.4 452.9 1553.4 473.9 1555.3 487.9 1557.9 499.5 1560.2 427.7 1562.1 419.1 1563.1 406.3 1565.0 377.6 1566.0 334.5 1568.9 328.6 1570.9 344.2 1572.8 452.9 1575.3 456.8 1577.7 553.9 1581.6 553.9 1583.9 498.0 1585.0 414.1 1586.0 451.4 1587.8 476.2 1588.6 490.2 1590.3 499.5 1592.2 480.1 1593.2 451.0 1595.5 443.2 1596.7 431.6 1599.3 400.9 1600.6 354.9 1601.7 383.4 1603.9 402.4 1605.8 451.0 1607.8 413.3 1608.7 356.8 1611.1 412.1 1613.4 398.9 1614.6 379.1 1617.5 373.3 1619.4 289.8 1620.3 303.8 1621.9 313.1 1624.3 369.4 1626.2 369.4 1628.2 324.8 1630.1 324.8 1632.0 260.7 1634.0 258.7 1635.7 249.4 1636.5 235.4 1638.8 249.0 1641.4 256.8 1643.3 252.9 1645.6 225.7 1648.0 274.3 1649.5 406.3 1651.5 408.3 1652.4 439.7 1654.4 460.7 1656.3 416.0 1658.3 408.3 1659.2 437.4 1661.2 456.8 1663.1 445.1 1664.1 427.7 1666.3 404.0 1667.4 368.4 1668.2 380.7 1669.9 388.8 1670.7 449.4 1672.4 489.8 1674.4 453.7 1675.3 399.5 1676.3 426.9 1678.3 445.1 1680.6 449.0 1684.1 445.1 1685.0 454.5 1686.8 460.7 1689.3 452.9 1692.2 464.6 1694.2 480.1 1696.1 473.9 1697.1 464.6 1699.0 436.6 1700.0 394.7 1701.9 387.7 1702.9 377.2 1703.9 418.0 1705.8 445.1 1708.2 491.7 1710.7 491.7 1713.0 428.6 1714.0 440.9 1715.9 449.0 1716.8 474.7 1718.4 491.7 1720.4 479.3 1721.4 460.7 1725.2 458.7 1728.2 445.1 1729.8 411.7 1730.7 361.7 1733.0 421.8 1734.0 468.4 1735.9 499.5 1737.6 434.7 1738.4 337.4 1739.4 354.3 1741.2 365.5 1742.0 399.3 1743.7 421.8 1745.4 393.9 1746.2 351.9 1748.5 452.9 1750.5 511.2 1752.4 503.4 1753.4 491.7 1755.1 482.4 1755.9 468.4 1757.9 466.5 1760.2 517.0 1762.5 517.0" fill="none" stroke="#000" stroke-width="4.4" stroke-linejoin="round" stroke-linecap="round"/><path d="M403.5 611.2 405.8 585.9 407.8 514.1 411.7 512.1 414.0 624.8 415.5 648.1 417.5 667.5 418.4 696.6 421.7 702.4 424.3 688.8 426.2 697.4 427.2 710.2 428.9 735.8 429.7 774.3 431.5 712.1 432.3 629.4 434.0 574.3 435.9 582.8 436.9 595.6 439.8 593.7 441.7 627.9 442.7 679.1 445.6 683.0 447.3 740.5 448.2 826.7 450.5 752.9 452.4 706.3 455.3 694.7 457.3 747.1 459.0 754.1 459.8 764.6 461.7 752.9 464.1 576.2 466.0 612.7 467.0 667.5 468.7 684.6 469.5 710.2 471.5 817.0 473.8 768.4 476.1 787.1 477.3 815.0 479.6 741.3 481.9 749.8 483.1 762.6 485.4 714.1 487.8 731.2 488.9 756.8 491.3 692.7 492.2 667.1 494.2 650.0 495.9 659.3 496.7 673.3 499.0 644.2 500.0 627.9 501.9 617.0 502.9 598.3 504.9 585.9 506.8 608.4 507.8 642.2 509.7 670.2 510.7 712.1 513.6 725.7 515.5 735.8 516.5 751.0 518.8 644.2 520.4 620.9 522.7 640.3 523.6 598.3 525.2 570.4 526.5 556.4 529.1 547.1 531.7 568.8 533.0 601.5 535.0 638.7 535.9 694.7 538.3 653.9 540.8 663.6 543.4 690.0 544.7 729.6 545.6 699.3 547.6 679.1 550.5 677.2 553.1 719.9 554.4 784.0 555.3 774.7 557.3 768.4 560.2 764.6 562.7 752.9 563.8 721.5 566.0 700.5 568.5 696.6 570.9 597.6 573.8 585.9 576.4 619.3 577.7 669.4 580.6 679.1 582.5 697.0 583.5 723.8 586.4 712.1 587.4 677.2 589.3 653.9 590.3 641.1 592.2 632.5 593.2 619.7 595.1 611.2 597.1 634.5 598.1 669.4 600.0 671.4 601.9 682.2 602.9 698.5 603.9 636.8 605.8 595.6 606.8 557.2 608.7 531.6 610.7 561.1 611.7 605.3 613.6 638.0 614.6 686.9 616.5 718.0 617.5 764.6 619.4 760.7 621.1 767.7 621.9 778.2 624.3 644.2 626.2 566.5 628.2 580.5 629.1 601.5 630.1 589.8 632.0 582.0 633.0 549.4 635.0 527.7 637.9 527.7 637.9 535.9 639.5 567.0 640.4 613.6 642.3 697.1 644.9 695.1 646.7 723.9 647.6 767.0 648.4 739.0 650.1 720.4 652.0 668.0 654.0 685.0 655.0 710.7 657.5 720.8 658.8 735.9 660.8 671.8 663.1 675.7 663.9 640.8 665.6 617.5 668.5 613.6 670.9 638.8 672.6 648.2 673.4 662.1 675.3 694.0 676.3 741.7 678.3 662.1 679.2 627.2 681.2 603.9 684.1 603.9 686.0 586.4 688.0 652.4 689.9 679.6 690.9 720.4 693.8 718.4 695.7 662.1 697.7 668.3 698.6 677.7 699.6 667.2 701.6 660.2 704.5 652.4 706.4 547.6 708.9 545.6 711.3 590.3 713.9 597.3 715.1 607.8 717.1 568.9 718.1 546.8 720.0 532.0 721.9 594.2 723.9 612.0 724.9 638.8 727.8 636.9 729.7 516.5 730.6 485.0 732.2 464.1 734.6 483.5 736.5 516.5 737.5 481.6 739.4 458.3 740.4 437.3 742.3 423.3 744.3 433.4 745.2 448.5 747.2 497.1 748.9 526.6 749.7 570.9 752.0 603.9 754.0 710.7 755.5 786.4 757.9 743.7 760.2 769.3 761.4 807.8 763.7 671.8 765.6 458.3 767.6 454.4 769.5 468.3 770.5 489.3 771.5 470.7 773.4 458.3 776.0 473.8 777.3 497.1 779.2 512.6 780.2 535.9 782.1 554.6 783.1 582.5 784.1 566.2 786.0 555.3 787.7 581.7 788.5 621.4 791.3 617.5 792.9 633.0 793.8 656.3 794.8 634.2 796.7 619.4 798.6 594.2 799.6 524.3 801.6 477.7 804.5 469.9 807.4 477.7 809.3 497.1 810.3 526.2 812.6 613.6 814.3 643.9 815.1 689.3 817.1 652.4 818.1 600.0 820.0 565.0 822.9 570.9 824.6 591.8 825.4 623.3 826.3 611.7 828.2 603.9 829.8 614.0 830.7 629.1 832.6 657.9 833.6 701.0 834.6 671.8 836.5 652.4 838.4 676.5 839.4 712.6 840.4 670.7 842.3 642.7 843.3 601.9 845.2 574.8 847.2 603.9 849.5 662.1 850.4 621.4 852.0 594.2 855.0 600.0 857.9 594.2 857.9 593.6 859.4 648.0 861.4 659.6 864.3 648.0 867.2 651.8 869.1 675.1 871.1 721.7 873.4 714.0 875.7 722.5 876.9 735.3 877.9 691.1 879.8 661.6 881.7 622.7 883.4 640.6 884.3 667.4 886.6 679.0 887.6 630.1 889.5 597.5 891.5 623.9 892.4 663.5 895.9 673.2 898.3 659.6 900.2 659.6 902.5 593.6 905.0 589.7 906.0 566.4 908.0 550.9 910.3 550.9 912.0 562.5 912.8 580.0 914.8 667.4 916.7 673.2 917.7 654.6 919.6 642.1 920.6 614.2 922.5 595.5 924.2 649.1 925.0 729.5 927.4 706.2 929.7 603.3 932.2 593.6 934.2 609.1 935.1 632.4 938.1 632.4 938.9 562.5 940.6 515.9 942.9 457.7 944.9 481.0 945.8 515.9 947.8 574.2 949.7 588.2 950.7 609.1 952.6 622.7 955.5 636.3 957.5 665.8 958.4 710.1 959.4 679.8 961.4 659.6 963.3 574.2 965.2 592.8 966.2 620.8 967.2 604.5 969.1 593.6 972.0 591.7 975.0 587.8 977.9 585.8 979.8 506.2 982.1 517.9 983.3 535.3 985.2 457.7 986.1 425.0 988.0 403.3 990.3 425.0 991.5 457.7 993.4 473.2 994.4 496.5 996.3 515.9 997.3 545.0 1000.2 550.9 1002.1 574.2 1003.8 613.0 1004.7 671.3 1006.5 677.5 1007.4 686.8 1008.2 642.5 1009.9 613.0 1011.8 622.3 1012.8 636.3 1015.7 632.4 1018.3 632.4 1020.6 593.6 1022.5 604.5 1023.5 620.8 1026.0 618.8 1028.3 673.2 1029.3 648.7 1031.3 632.4 1032.9 652.6 1033.8 682.9 1036.1 686.8 1038.1 651.8 1040.0 733.4 1041.0 684.5 1042.9 651.8 1045.1 671.3 1046.2 700.4 1047.1 671.3 1048.7 651.8 1050.7 613.0 1051.7 572.2 1053.6 545.0 1054.6 515.9 1056.5 496.5 1058.4 502.7 1059.4 512.0 1061.4 525.2 1062.3 545.0 1064.3 560.6 1065.2 583.9 1067.2 696.5 1068.2 623.1 1070.1 574.2 1071.1 529.9 1073.0 500.4 1074.0 463.1 1075.9 438.3 1075.9 485.9 1076.8 451.0 1078.4 427.7 1081.7 419.9 1084.1 468.1 1085.2 540.3 1088.2 542.2 1090.7 570.2 1092.0 612.1 1093.0 571.4 1095.0 544.2 1096.9 478.2 1097.9 453.7 1099.8 437.4 1102.7 437.4 1104.7 454.9 1105.6 411.7 1107.6 383.0 1110.5 379.1 1112.8 398.5 1114.0 427.7 1116.3 431.6 1119.2 437.4 1121.2 472.3 1122.1 524.8 1124.7 539.5 1126.0 561.7 1127.0 546.5 1128.9 536.4 1132.2 550.0 1133.9 563.2 1134.8 583.0 1136.4 607.9 1137.3 645.1 1138.2 631.2 1140.0 621.8 1143.5 631.6 1146.1 650.2 1147.4 678.2 1150.3 676.2 1152.2 753.9 1153.2 703.8 1155.1 670.4 1156.1 652.9 1158.1 641.3 1160.6 675.4 1161.9 726.7 1162.9 675.4 1164.9 641.3 1166.1 625.0 1168.7 614.1 1171.7 602.4 1174.2 641.3 1175.5 699.5 1177.2 708.8 1178.1 722.8 1180.4 656.8 1182.7 563.6 1185.2 563.6 1186.2 519.3 1188.2 489.8 1191.1 489.8 1193.0 520.1 1194.0 565.5 1195.0 543.4 1196.9 528.6 1197.7 503.0 1199.4 485.9 1201.2 494.5 1202.1 507.3 1204.7 497.6 1206.6 408.3 1208.0 332.5 1213.4 328.6 1215.3 342.6 1216.3 363.6 1218.3 326.7 1223.1 326.7 1227.0 330.6 1228.9 348.4 1229.9 375.2 1231.8 400.1 1232.8 437.4 1234.8 452.1 1235.7 474.3 1237.9 490.6 1239.0 515.0 1241.6 501.5 1242.4 463.0 1244.1 437.4 1245.9 443.6 1246.8 452.9 1248.5 481.7 1249.3 524.8 1251.3 551.2 1252.2 590.8 1253.2 551.2 1255.1 524.8 1256.1 495.6 1258.1 476.2 1261.0 466.5 1263.5 480.1 1265.8 470.4 1268.7 466.5 1270.4 493.7 1271.3 534.5 1273.6 594.7 1276.5 583.0 1277.5 565.5 1279.4 553.9 1281.7 553.9 1282.9 536.4 1285.2 524.8 1287.2 532.5 1288.2 544.2 1289.1 532.5 1291.1 524.8 1293.0 531.7 1294.0 542.2 1295.0 527.1 1296.9 517.0 1296.9 517.0 1297.7 498.3 1299.4 485.9 1300.4 476.6 1302.3 470.4 1304.9 482.0 1306.2 499.5 1307.1 438.9 1308.7 398.5 1312.0 408.3 1313.7 431.6 1314.6 466.5 1315.7 437.4 1317.9 418.0 1320.8 418.0 1322.1 388.8 1324.7 369.4 1326.6 391.2 1327.6 423.8 1330.9 425.7 1331.7 414.1 1333.4 406.3 1336.3 408.3 1338.3 476.2 1341.7 489.8 1345.0 497.6 1346.0 420.7 1348.0 369.4 1350.9 355.8 1353.8 350.0 1356.4 361.7 1357.7 379.1 1359.6 418.0 1360.6 476.2 1362.3 494.1 1363.1 520.9 1365.4 485.9 1367.8 524.0 1368.9 581.1 1371.3 518.9 1372.2 499.1 1374.2 485.9 1376.1 496.0 1377.1 511.2 1381.0 509.2 1384.2 541.1 1385.8 588.8 1386.8 573.7 1388.7 563.6 1391.1 501.5 1394.6 515.0 1395.5 485.9 1397.5 466.5 1399.4 524.8 1401.4 544.2 1402.3 573.3 1404.3 583.0 1406.6 635.4 1409.1 627.7 1411.1 621.8 1412.8 656.8 1413.6 709.2 1415.9 635.4 1418.3 633.5 1419.1 603.2 1420.8 583.0 1422.7 567.5 1423.6 541.8 1425.2 524.8 1427.4 548.1 1428.5 583.0 1429.5 557.4 1431.5 540.3 1433.4 553.5 1434.4 573.3 1436.6 605.1 1437.7 652.9 1438.5 640.1 1440.2 631.6 1442.1 616.0 1443.8 651.7 1444.7 705.3 1447.0 602.4 1449.3 592.7 1451.8 583.0 1453.5 598.5 1454.4 621.8 1456.7 612.1 1458.6 644.8 1459.6 693.7 1461.6 612.1 1464.1 604.4 1466.4 563.6 1468.7 548.1 1469.9 534.1 1472.2 524.8 1474.2 555.8 1475.1 602.4 1476.8 620.3 1477.7 647.1 1480.0 612.1 1481.0 594.7 1482.9 583.0 1484.9 618.0 1485.8 670.4 1487.8 689.8 1488.7 718.9 1490.4 741.0 1491.3 774.1 1492.0 774.2 1492.9 714.2 1494.6 674.2 1496.5 690.7 1498.4 627.6 1501.4 615.9 1502.3 586.8 1504.3 567.4 1505.2 526.6 1507.2 499.4 1509.1 495.5 1511.5 584.9 1512.6 568.5 1515.0 557.7 1517.5 563.9 1518.8 573.2 1521.7 577.1 1523.9 621.0 1525.0 686.8 1525.9 655.9 1527.6 635.3 1529.5 786.8 1531.5 819.8 1533.4 838.1 1534.4 865.4 1536.3 790.7 1538.3 715.0 1541.2 703.3 1542.8 714.6 1543.7 731.5 1546.0 635.3 1547.0 623.7 1548.9 615.9 1550.9 629.9 1551.8 650.9 1554.2 681.9 1556.7 674.2 1558.9 688.5 1560.0 710.1 1560.8 680.4 1562.5 660.6 1563.5 633.8 1565.4 615.9 1566.4 578.6 1568.3 553.8 1570.3 605.0 1571.3 681.9 1574.2 693.6 1576.1 716.1 1577.1 749.9 1579.4 751.8 1581.5 760.8 1582.5 774.2 1584.9 716.9 1586.8 615.9 1588.7 674.2 1591.1 725.6 1591.9 694.8 1593.6 674.2 1594.7 660.2 1596.9 650.9 1598.8 631.5 1599.9 616.3 1601.9 606.2 1603.9 629.1 1604.9 663.5 1607.2 596.5 1610.1 588.7 1611.4 570.1 1614.0 557.7 1615.9 574.4 1616.9 599.4 1617.7 567.4 1619.4 546.0 1621.7 538.3 1624.1 580.0 1624.9 543.3 1626.6 518.8 1629.5 518.8 1632.8 549.5 1634.4 595.5 1635.2 549.5 1636.9 518.8 1640.2 507.2 1641.2 490.9 1643.1 480.0 1645.0 487.8 1646.0 499.4 1648.0 606.2 1649.9 617.9 1650.9 635.3 1652.6 644.7 1653.4 658.6 1655.9 667.6 1657.1 681.0 1659.6 674.2 1662.5 666.4 1663.5 647.8 1665.4 635.3 1668.3 635.3 1671.2 663.3 1672.6 705.2 1673.8 683.1 1676.1 668.3 1677.1 648.5 1679.0 635.3 1681.9 625.6 1683.9 666.4 1684.9 647.8 1686.8 635.3 1688.7 643.1 1689.7 654.8 1691.9 673.4 1693.0 701.4 1695.9 693.6 1697.0 677.3 1699.0 666.4 1700.1 607.0 1702.3 567.4 1704.3 674.2 1706.2 737.3 1707.2 699.4 1709.1 674.2 1711.5 689.7 1715.0 697.5 1716.9 705.2 1717.9 716.9 1720.8 703.3 1721.7 691.7 1723.7 683.9 1725.9 709.5 1727.0 748.0 1728.2 682.7 1730.5 639.2 1732.8 651.7 1734.0 670.3 1736.3 635.3 1737.5 591.1 1739.8 561.6 1742.1 635.3 1743.7 681.9 1746.0 654.8 1748.0 688.9 1748.9 740.2 1751.5 726.6 1753.8 674.2 1754.8 650.9 1756.7 635.3 1758.6 649.3 1759.6 670.3 1761.6 687.4 1762.5 713.0" fill="none" stroke="#000" stroke-width="4.4" stroke-linejoin="round" stroke-linecap="round"/><path d="M409.5 424.2L410.5 476.7M421.4 526.2L421.4 595.4M427.9 503.0L427.4 564.9M432.3 517.0L431.2 563.1M440.2 496.6L440.5 561.3M444.8 550.5L443.8 565.6M449.6 532.0L449.5 583.8M455.4 554.9L455.7 657.9M461.4 523.2L460.8 557.9M477.3 623.8L476.9 719.4M482.2 589.8L482.9 637.6M487.9 593.3L488.9 637.7M495.2 513.3L496.2 544.5M501.1 488.3L500.1 562.6M507.6 479.7L506.6 546.7M513.0 513.7L512.1 624.7M518.0 480.5L518.7 522.8M522.7 476.4L521.9 520.3M529.6 491.7L528.7 520.2M535.3 498.0L536.4 519.3M542.5 578.5L541.8 639.5M548.1 574.2L547.1 653.4M556.0 592.3L556.7 628.0M561.3 581.5L560.4 625.8M572.6 497.7L572.5 551.4M580.5 537.3L581.4 579.4M585.2 586.3L586.0 626.3M590.2 534.2L591.3 580.2M595.0 512.0L595.2 599.0M600.7 476.5L601.8 511.3M605.6 474.2L606.4 506.6M617.2 569.9L616.2 593.2M628.3 468.8L627.8 525.1M636.0 385.4L635.5 431.8M646.0 578.9L646.2 602.8M650.6 612.8L651.7 653.8M657.2 551.5L656.3 634.4M661.3 579.1L661.8 602.5M669.2 527.9L669.1 566.6M676.1 543.4L675.1 596.5M682.3 503.2L682.9 579.5M696.3 560.6L696.7 630.1M711.4 472.4L712.2 524.2M717.7 441.9L717.9 499.2M724.1 468.7L725.3 501.4M731.6 414.4L732.2 448.3M737.9 381.0L736.9 412.2M773.1 329.3L774.1 413.9M778.1 402.2L778.5 418.6M782.9 452.3L783.3 487.5M788.7 457.0L789.1 524.7M793.5 509.4L794.5 572.7M806.6 355.0L805.7 420.7M812.5 404.8L813.0 465.8M820.3 432.1L820.2 484.7M825.4 481.5L825.7 517.8M831.4 530.2L832.6 584.0M837.2 464.0L838.1 514.0M841.4 472.4L840.9 552.6M848.6 472.9L848.4 501.3M852.7 473.0L851.8 550.8M856.8 488.2L857.2 555.6M863.5 507.4L863.9 604.0M868.3 524.3L867.1 584.3M874.1 523.5L873.6 610.2M879.5 537.1L879.8 599.8M886.6 519.8L887.5 574.7M890.9 492.4L890.0 579.4M896.7 524.1L896.4 602.2M903.0 470.3L904.1 535.6M908.9 476.0L909.4 516.1M916.1 505.9L915.4 540.3M923.7 511.6L923.8 589.6M930.9 538.8L931.7 581.0M936.3 422.9L936.4 451.2M943.4 357.7L944.1 404.0M954.8 460.9L955.5 512.3M959.4 480.5L959.9 527.5M966.7 491.1L966.7 567.1M974.5 398.3L974.6 436.4M979.7 360.2L979.7 448.5M987.1 291.6L986.8 356.6M1002.0 486.0L1003.2 520.2M1008.1 470.6L1008.2 537.5M1014.2 462.7L1015.3 540.3M1020.2 520.5L1020.4 576.8M1026.2 442.3L1026.3 527.0M1031.8 545.2L1031.3 627.0M1037.7 550.8L1038.5 590.8M1045.3 510.8L1044.6 567.4M1059.5 450.9L1058.4 476.1M1064.3 470.3L1063.9 490.9M1076.2 371.1L1075.3 396.8M1082.2 364.8L1082.3 385.4M1088.0 402.7L1088.0 421.7M1092.6 416.8L1092.9 437.4M1098.7 385.1L1099.6 421.2M1103.7 287.6L1104.6 363.3M1108.9 318.4L1108.2 365.6M1116.9 289.5L1116.3 353.3M1123.8 363.2L1124.6 388.8M1129.5 367.5L1129.3 471.2M1136.3 442.7L1136.7 471.6M1143.9 436.6L1143.9 564.5M1150.9 526.2L1150.2 611.6M1155.2 470.2L1155.3 520.7M1161.3 487.8L1160.5 557.9M1166.1 521.7L1167.1 596.3M1170.5 560.8L1170.4 594.9M1177.5 506.9L1177.6 538.0M1189.7 407.3L1190.5 447.2M1194.4 388.7L1194.1 457.0M1199.2 380.5L1198.0 430.1M1213.9 233.2L1214.2 310.5M1219.6 206.1L1220.7 283.3M1226.8 260.8L1227.4 311.0M1241.1 378.8L1242.1 423.5M1247.9 333.9L1247.7 418.7M1254.8 332.0L1254.7 380.7M1258.9 364.9L1259.2 427.8M1263.8 342.3L1263.4 443.0M1270.4 378.5L1270.2 434.7M1278.4 406.3L1279.1 501.5M1286.3 425.4L1286.9 469.5M1291.4 352.7L1290.6 423.2M1296.9 345.1L1297.8 387.6M1303.1 363.5L1303.2 405.0M1311.1 319.2L1310.0 382.5M1317.4 240.5L1318.5 323.4M1322.1 234.8L1322.1 301.6M1328.5 321.8L1328.3 363.9M1334.6 320.4L1334.1 370.0M1341.3 329.2L1341.8 370.7M1350.5 250.3L1349.7 284.5M1357.5 292.9L1358.1 338.3M1361.7 324.8L1360.7 357.4M1369.3 391.4L1370.5 444.1M1374.3 417.0L1374.8 474.8M1380.2 368.1L1380.4 474.4M1384.6 387.1L1383.9 464.6M1388.9 374.2L1388.7 437.9M1395.5 353.8L1395.7 411.8M1401.2 383.0L1402.4 450.2M1409.0 477.8L1408.1 539.7M1416.6 509.7L1416.2 556.9M1428.4 409.4L1428.7 487.3M1435.4 458.5L1436.6 490.8M1443.1 444.3L1442.0 539.6M1448.2 484.8L1447.2 547.6M1454.3 455.5L1454.8 492.1M1460.5 470.2L1460.5 535.2M1465.4 452.5L1466.2 504.6M1469.7 454.0L1470.0 500.6M1476.8 401.7L1476.2 457.7M1484.0 511.4L1485.2 555.9M1489.3 530.5L1490.3 585.7M1495.0 498.6L1495.9 549.2M1499.3 513.3L1499.3 534.5M1506.1 426.7L1505.0 471.5M1510.9 325.9L1510.4 419.3M1517.8 430.4L1517.0 507.3M1523.2 467.6L1522.3 531.3M1530.1 581.6L1531.1 629.5M1537.7 608.9L1537.3 679.8M1543.0 546.3L1544.0 606.4M1548.0 503.0L1547.7 560.1M1553.6 513.7L1553.7 559.4M1560.8 544.4L1560.9 587.8M1565.5 475.7L1565.0 543.6M1569.6 487.8L1569.7 529.2M1577.4 604.8L1576.4 668.2M1583.6 563.7L1582.6 597.1M1590.6 508.5L1590.9 591.1M1595.1 533.7L1594.5 592.4M1600.0 484.1L1600.7 571.7M1605.6 522.9L1606.0 571.2M1611.6 484.6L1612.1 538.5M1619.2 458.5L1619.6 519.8M1626.7 420.5L1627.6 502.2M1634.5 373.6L1635.0 464.5M1641.7 313.2L1640.8 404.7M1656.6 478.6L1655.9 549.5M1662.3 560.9L1661.3 624.2M1667.6 555.1L1668.2 594.9M1672.3 538.2L1672.5 575.3M1679.9 474.3L1679.2 516.3M1684.8 536.8L1685.0 590.6M1689.7 513.0L1688.9 560.2M1696.7 513.5L1697.5 547.0M1702.6 537.6L1703.6 569.3M1708.0 546.0L1707.9 593.6M1712.9 617.9L1713.6 664.6M1718.4 546.4L1717.9 632.9M1726.4 486.7L1725.2 578.0M1732.3 540.7L1732.8 579.9M1738.7 510.4L1738.3 530.3M1743.7 485.1L1744.1 549.7M1751.7 552.4L1750.9 594.2" fill="none" stroke="#fff" stroke-width="1.4" stroke-linecap="round"/><path d="M403.5 900.3V884.8M403.5 56.0V71.5M675.4 900.3V884.8M675.4 56.0V71.5M947.4 900.3V884.8M947.4 56.0V71.5M1219.3 900.3V884.8M1219.3 56.0V71.5M1491.3 900.3V884.8M1491.3 56.0V71.5M1763.2 900.3V884.8M1763.2 56.0V71.5M403.5 900.3H419.0M1763.2 900.3H1747.7M403.5 779.7H419.0M1763.2 779.7H1747.7M403.5 659.1H419.0M1763.2 659.1H1747.7M403.5 538.5H419.0M1763.2 538.5H1747.7M403.5 417.8H419.0M1763.2 417.8H1747.7M403.5 297.2H419.0M1763.2 297.2H1747.7M403.5 176.6H419.0M1763.2 176.6H1747.7M403.5 56.0H419.0M1763.2 56.0H1747.7" stroke="#262626" stroke-width="4.6" fill="none"/><rect x="403.5" y="56.0" width="1359.7" height="844.3" fill="none" stroke="#262626" stroke-width="4.6" stroke-linejoin="miter"/><g stroke="#d9d9d9" stroke-width="1.1"><line x1="675.5" y1="1137.0" x2="675.5" y2="1981.5"/><line x1="947.5" y1="1137.0" x2="947.5" y2="1981.5"/><line x1="1219.5" y1="1137.0" x2="1219.5" y2="1981.5"/><line x1="1491.5" y1="1137.0" x2="1491.5" y2="1981.5"/><line x1="403.5" y1="1861.5" x2="1763.2" y2="1861.5"/><line x1="403.5" y1="1740.5" x2="1763.2" y2="1740.5"/><line x1="403.5" y1="1620.5" x2="1763.2" y2="1620.5"/><line x1="403.5" y1="1499.5" x2="1763.2" y2="1499.5"/><line x1="403.5" y1="1378.5" x2="1763.2" y2="1378.5"/><line x1="403.5" y1="1258.5" x2="1763.2" y2="1258.5"/></g><path d="M403.5 1694.2 404.1 1716.8 404.8 1701.0 405.4 1729.1 405.9 1700.2 406.3 1722.5 406.8 1690.3 407.4 1713.8 408.1 1698.9 408.7 1723.3 409.2 1686.9 409.6 1703.9 410.1 1659.2 410.6 1687.6 411.1 1673.4 411.7 1709.7 412.2 1679.8 412.7 1700.4 413.2 1657.3 413.7 1682.3 414.1 1672.0 414.6 1694.2 414.9 1670.2 415.2 1685.3 415.5 1653.4 416.0 1697.8 416.6 1679.5 417.1 1713.6 417.7 1665.1 418.4 1695.6 419.0 1646.6 419.5 1699.8 419.9 1656.9 420.4 1709.7 420.8 1684.6 421.3 1702.3 421.7 1678.6 422.4 1712.0 423.0 1689.1 423.7 1735.0 424.2 1700.0 424.7 1713.5 425.2 1680.6 425.9 1668.9 426.5 1674.3 427.2 1661.2 427.5 1685.6 427.8 1669.8 428.2 1694.2 428.5 1667.1 428.8 1687.8 429.1 1656.3 429.6 1684.4 430.2 1666.8 430.7 1705.8 431.1 1688.3 431.6 1699.3 432.0 1682.5 432.5 1690.0 432.9 1686.3 433.4 1694.2 433.9 1787.4 434.4 1726.8 435.0 1830.1 435.6 1753.6 436.2 1795.2 436.9 1733.0 437.5 1707.0 438.2 1719.6 438.8 1691.3 439.5 1730.4 440.1 1714.1 440.8 1746.6 441.4 1711.5 442.1 1735.8 442.7 1701.0 443.2 1752.6 443.7 1712.3 444.3 1762.1 444.7 1726.7 445.2 1742.4 445.6 1709.7 446.1 1739.8 446.5 1724.7 447.0 1760.2 447.5 1732.9 448.0 1743.2 448.5 1711.7 449.1 1743.4 449.6 1724.8 450.1 1752.4 450.4 1730.3 450.6 1745.8 450.9 1725.2 451.4 1809.2 451.9 1761.6 452.4 1835.9 453.1 1802.2 453.7 1822.6 454.4 1789.3 454.9 1854.7 455.4 1824.7 455.9 1870.9 456.4 1814.4 456.8 1842.4 457.3 1789.3 457.6 1805.9 457.9 1799.8 458.3 1818.4 458.9 1789.5 459.5 1801.1 460.2 1779.6 460.7 1810.5 461.2 1788.8 461.7 1818.4 462.2 1797.8 462.6 1807.6 463.1 1787.4 463.6 1763.6 464.0 1775.1 464.5 1744.7 465.0 1729.5 465.5 1740.0 466.0 1719.4 466.3 1755.8 466.7 1743.8 467.0 1783.5 467.4 1750.3 467.9 1770.9 468.3 1727.2 468.9 1769.9 469.4 1753.5 469.9 1791.3 470.5 1809.1 471.2 1800.1 471.8 1822.3 473.8 1828.2 474.4 1801.8 475.1 1812.8 475.7 1791.3 476.4 1746.5 477.0 1768.2 477.7 1735.0 478.0 1782.9 478.3 1755.7 478.6 1810.7 479.1 1823.4 479.5 1818.7 480.0 1830.1 480.5 1794.3 481.0 1821.8 481.6 1787.4 482.2 1819.0 482.8 1798.9 483.5 1839.8 484.1 1792.9 484.8 1817.4 485.4 1764.1 485.9 1812.1 486.5 1779.2 487.0 1830.1 487.4 1789.4 487.9 1809.8 488.3 1756.3 488.8 1792.2 489.2 1773.7 489.7 1810.7 490.2 1823.7 490.7 1816.2 491.3 1826.2 491.8 1793.4 492.3 1810.6 492.8 1779.6 495.1 1779.6 495.7 1803.0 496.2 1784.8 496.7 1810.7 497.1 1801.1 497.6 1806.2 498.1 1799.0 498.5 1780.1 499.0 1790.0 499.4 1775.7 499.9 1812.0 500.4 1790.4 501.0 1830.1 501.5 1818.8 502.0 1823.5 502.5 1810.7 503.0 1775.3 503.4 1800.1 503.9 1748.5 504.5 1742.6 505.2 1746.6 505.8 1738.8 506.1 1770.5 506.5 1746.9 506.8 1787.4 507.4 1800.2 508.1 1791.9 508.7 1810.7 509.4 1761.1 510.0 1788.5 510.7 1725.2 511.0 1756.6 511.3 1748.5 511.7 1781.6 512.3 1807.2 512.9 1788.4 513.6 1816.5 514.2 1781.3 514.9 1802.2 515.5 1760.2 516.9 1762.1 517.4 1791.6 517.9 1770.5 518.4 1806.8 519.1 1778.7 519.7 1791.1 520.4 1771.8 520.9 1804.0 521.4 1785.6 521.9 1818.4 522.7 1782.7 523.5 1807.2 524.3 1756.3 524.9 1786.7 525.6 1767.0 526.2 1802.9 526.7 1767.2 527.2 1794.1 527.8 1758.3 528.2 1789.6 528.7 1782.8 529.1 1814.6 529.6 1787.0 530.0 1807.0 530.5 1775.7 532.0 1777.7 532.7 1804.0 533.3 1783.5 534.0 1814.6 534.5 1748.5 535.0 1773.2 535.5 1721.4 536.0 1762.2 536.4 1739.5 536.9 1771.8 537.3 1730.4 537.8 1754.7 538.3 1705.8 539.8 1700.0 540.4 1785.1 541.1 1754.1 541.7 1841.7 542.4 1778.3 543.0 1807.5 543.7 1752.4 544.3 1746.1 545.0 1750.3 545.6 1742.7 546.1 1675.7 546.7 1705.1 547.2 1658.3 548.0 1765.4 548.7 1710.4 549.5 1791.3 550.2 1803.6 550.8 1797.0 551.5 1806.8 552.1 1822.4 552.7 1814.5 553.4 1832.0 554.0 1779.8 554.7 1819.4 555.3 1752.4 556.0 1739.4 556.6 1747.0 557.3 1729.1 559.2 1733.0 559.7 1804.9 560.2 1774.0 560.8 1847.6 561.4 1784.2 562.1 1826.1 562.7 1771.8 563.2 1800.9 563.6 1787.4 564.1 1806.8 564.7 1698.8 565.4 1773.3 566.0 1677.7 566.5 1717.7 566.9 1691.9 567.4 1742.7 567.9 1767.6 568.4 1751.3 568.9 1783.5 569.4 1820.7 570.0 1804.7 570.5 1834.0 571.1 1791.9 571.8 1818.6 572.4 1781.6 573.1 1668.6 573.7 1722.5 574.4 1630.1 575.7 1628.2 576.2 1666.1 576.6 1651.1 577.1 1694.2 577.5 1758.1 577.9 1724.1 578.3 1771.8 578.9 1838.1 579.5 1796.9 580.2 1857.3 581.0 1791.7 581.7 1815.2 582.5 1748.5 583.2 1667.8 583.8 1700.0 584.5 1624.3 586.8 1624.3 587.3 1691.3 587.8 1645.7 588.3 1703.9 588.9 1727.3 589.4 1719.1 589.9 1738.8 590.7 1680.7 591.4 1723.6 592.2 1663.1 592.9 1681.4 593.5 1669.2 594.2 1694.2 594.8 1673.4 595.5 1684.3 596.1 1668.9 596.6 1642.4 597.1 1651.2 597.7 1624.3 598.1 1699.7 598.6 1655.3 599.0 1713.6 599.7 1688.2 600.3 1701.4 601.0 1674.8 601.5 1725.1 602.0 1687.9 602.5 1760.2 603.0 1685.1 603.4 1729.4 603.9 1670.9 604.5 1698.4 605.2 1687.6 605.8 1709.7 606.5 1728.2 607.1 1720.9 607.8 1736.9 608.3 1684.2 608.8 1722.8 609.3 1670.9 609.8 1646.6 610.2 1661.6 610.7 1632.0 611.3 1671.9 612.0 1652.9 612.6 1696.1 612.9 1658.3 613.3 1679.5 613.6 1635.9 614.1 1590.1 614.6 1603.1 615.1 1558.3 615.6 1596.5 616.0 1575.0 616.5 1616.5 617.1 1641.8 617.8 1631.2 618.4 1651.5 619.1 1581.9 619.7 1607.7 620.4 1548.5 621.0 1585.3 621.7 1564.8 622.3 1601.0 623.0 1655.9 623.6 1613.1 624.3 1678.6 625.2 1588.6 626.2 1651.6 627.2 1546.6 627.8 1615.1 628.5 1595.0 629.1 1670.9 629.8 1626.5 630.4 1649.3 631.1 1597.1 631.4 1570.3 631.7 1586.0 632.0 1562.1 632.7 1586.0 633.3 1573.4 634.0 1599.0 634.4 1568.4 634.9 1582.6 635.3 1556.3 636.2 1594.7 637.0 1577.3 637.9 1622.3 638.4 1540.5 638.9 1591.8 639.4 1491.3 639.9 1571.7 640.4 1522.4 641.0 1594.2 641.4 1652.8 641.9 1625.0 642.3 1675.7 644.3 1677.7 644.8 1632.9 645.3 1662.3 645.8 1623.3 647.2 1625.2 647.7 1707.9 648.2 1659.2 648.7 1737.9 649.2 1709.2 649.6 1723.3 650.1 1697.1 650.7 1725.0 651.4 1709.7 652.0 1737.9 652.7 1706.9 653.3 1718.6 654.0 1693.2 654.6 1684.4 655.3 1688.4 655.9 1681.6 656.4 1722.0 656.8 1692.6 657.3 1730.1 658.0 1767.7 658.7 1752.8 659.4 1782.5 659.9 1731.1 660.3 1770.3 660.8 1718.4 661.3 1649.0 661.8 1685.0 662.3 1600.0 662.8 1665.5 663.2 1625.5 663.7 1714.6 664.1 1727.9 664.6 1722.7 665.0 1737.9 665.6 1652.5 666.1 1692.3 666.6 1629.1 667.1 1682.4 667.6 1661.7 668.2 1718.4 668.8 1698.1 669.4 1713.2 670.1 1691.3 670.5 1648.5 671.0 1668.2 671.5 1638.8 672.1 1692.6 672.7 1676.9 673.4 1726.2 673.8 1705.4 674.3 1717.0 674.8 1695.1 675.3 1737.9 675.8 1715.3 676.3 1745.6 677.0 1724.7 677.6 1735.9 678.3 1710.7 678.9 1732.6 679.5 1718.5 680.2 1741.7 680.7 1702.7 681.2 1726.0 681.7 1677.7 682.4 1714.9 683.0 1685.2 683.7 1726.2 684.3 1665.0 685.0 1702.1 685.6 1640.8 686.1 1673.1 686.5 1655.3 687.0 1699.0 687.6 1706.2 688.3 1702.0 688.9 1708.7 689.4 1659.0 689.8 1669.8 690.3 1621.4 692.8 1619.4 693.5 1657.6 694.1 1640.8 694.8 1668.0 695.4 1681.5 696.0 1673.3 696.7 1691.3 697.3 1707.6 698.0 1702.4 698.6 1720.4 699.2 1740.0 699.7 1726.3 700.2 1751.5 701.0 1730.4 701.7 1738.3 702.5 1720.4 703.0 1694.1 703.5 1712.9 704.1 1687.4 704.5 1705.9 705.0 1700.6 705.4 1718.4 705.9 1704.4 706.5 1711.5 707.0 1699.0 707.6 1730.4 708.3 1708.1 708.9 1753.4 711.3 1759.2 713.2 1759.2 714.0 1690.2 714.7 1733.9 715.5 1668.0 716.0 1709.0 716.6 1699.0 717.1 1739.8 719.0 1739.8 719.7 1732.6 720.3 1736.0 721.0 1730.1 721.5 1656.4 722.0 1678.0 722.5 1601.9 724.9 1600.0 725.5 1654.2 726.1 1638.9 726.8 1695.1 727.3 1736.4 727.8 1710.3 728.3 1755.3 728.8 1695.6 729.2 1719.6 729.7 1671.8 730.3 1614.3 731.0 1654.6 731.7 1580.6 732.0 1617.7 732.3 1592.2 732.6 1633.0 733.3 1668.1 733.9 1645.0 734.6 1693.2 735.1 1659.2 735.6 1680.5 736.1 1633.0 736.6 1655.5 737.0 1641.5 737.5 1668.0 739.4 1669.9 740.1 1611.0 740.7 1652.0 741.4 1594.2 742.0 1613.2 742.6 1599.7 743.3 1621.4 743.9 1645.5 744.6 1627.1 745.2 1658.3 745.9 1624.3 746.5 1649.8 747.2 1603.9 749.1 1605.8 749.8 1649.2 750.4 1623.6 751.1 1662.1 751.7 1643.3 752.3 1653.1 753.0 1631.1 753.7 1648.8 754.3 1635.0 755.0 1652.4 755.6 1661.7 756.2 1655.7 756.9 1664.1 757.3 1603.0 757.8 1629.1 758.3 1576.7 759.8 1570.9 761.7 1574.8 762.4 1624.0 763.0 1597.0 763.7 1648.5 764.2 1629.5 764.7 1637.3 765.2 1623.3 766.6 1629.1 767.2 1587.3 767.9 1603.5 768.5 1565.0 769.0 1602.0 769.4 1581.6 769.9 1613.6 770.4 1633.1 770.9 1621.0 771.5 1642.7 773.4 1640.8 773.9 1589.1 774.4 1623.5 775.0 1549.5 776.3 1547.6 776.8 1585.3 777.2 1572.1 777.7 1613.6 778.2 1647.7 778.7 1624.4 779.2 1668.0 779.7 1614.3 780.2 1630.5 780.8 1574.8 781.3 1562.2 781.8 1569.3 782.3 1559.2 782.9 1583.9 783.5 1567.9 784.1 1598.1 784.7 1553.5 785.4 1577.9 786.0 1528.2 786.5 1539.8 786.9 1533.7 787.4 1547.6 787.9 1596.4 788.4 1581.6 788.9 1625.2 789.6 1551.7 790.2 1597.8 790.9 1537.9 792.4 1543.7 792.9 1583.6 793.3 1571.9 793.8 1607.8 795.3 1603.9 795.9 1576.4 796.5 1592.9 797.1 1561.2 798.6 1559.2 799.2 1589.1 799.7 1573.6 800.2 1613.6 800.6 1706.4 801.1 1653.9 801.6 1747.6 802.0 1715.6 802.5 1731.8 802.9 1695.1 803.4 1663.0 803.9 1681.8 804.5 1636.9 805.1 1670.5 805.7 1652.6 806.4 1695.1 806.9 1663.5 807.4 1686.3 808.0 1638.8 808.4 1633.9 808.9 1637.1 809.3 1631.1 810.0 1674.7 810.6 1649.7 811.3 1691.3 813.2 1697.1 813.8 1645.9 814.5 1674.2 815.1 1631.1 815.8 1671.2 816.4 1652.8 817.1 1683.5 817.7 1675.7 818.4 1680.6 819.0 1671.8 819.3 1621.0 819.7 1660.1 820.0 1611.7 820.6 1654.9 821.3 1631.0 821.9 1668.0 822.3 1640.6 822.6 1648.5 822.9 1619.4 823.6 1660.7 824.2 1636.5 824.9 1669.9 825.2 1640.0 825.5 1654.6 825.8 1631.1 826.5 1654.1 827.1 1643.0 827.8 1669.9 828.4 1593.6 829.0 1626.4 829.7 1561.2 830.3 1602.7 831.0 1582.0 831.7 1613.6 832.3 1589.7 832.9 1599.8 833.6 1580.6 834.2 1642.1 834.9 1609.8 835.5 1662.1 836.2 1653.7 836.8 1660.0 837.5 1648.5 838.1 1622.2 838.8 1637.0 839.4 1603.9 840.1 1590.3 840.7 1594.5 841.4 1580.6 842.0 1632.1 842.6 1604.9 843.3 1652.4 843.9 1666.8 844.6 1659.3 845.2 1671.8 846.8 1677.7 847.2 1642.5 847.7 1670.0 848.2 1627.2 848.8 1659.4 849.4 1642.5 850.1 1668.0 850.7 1638.0 851.4 1654.7 852.0 1625.2 852.7 1658.6 853.3 1632.8 854.0 1669.9 854.6 1634.0 855.3 1659.4 855.9 1623.3 856.6 1651.1 857.2 1634.4 857.9 1671.8 858.6 1602.1 859.3 1652.6 860.0 1581.1 860.4 1657.5 860.9 1624.9 861.4 1680.1 862.1 1646.2 862.9 1667.2 863.7 1631.6 864.1 1711.0 864.5 1672.2 864.9 1746.1 865.3 1668.9 865.8 1712.9 866.2 1647.1 866.7 1674.5 867.1 1653.5 867.6 1684.0 868.1 1654.0 868.6 1672.6 869.1 1633.5 869.8 1660.5 870.4 1641.9 871.1 1668.4 871.7 1662.9 872.3 1667.3 873.0 1660.7 873.5 1584.6 874.0 1629.8 874.6 1526.7 875.0 1583.6 875.5 1553.8 875.9 1602.4 876.4 1679.9 876.9 1626.8 877.5 1705.3 877.9 1630.1 878.4 1674.4 878.8 1598.5 879.5 1575.8 880.1 1592.4 880.8 1565.5 881.3 1579.8 881.8 1569.2 882.3 1583.0 884.3 1581.1 884.7 1502.5 885.2 1540.9 885.6 1487.9 886.1 1540.7 886.5 1515.2 887.0 1583.0 887.5 1655.7 888.0 1623.2 888.5 1674.3 889.1 1595.8 889.6 1647.9 890.1 1559.7 890.5 1591.8 891.0 1582.4 891.5 1612.1 891.9 1560.3 892.4 1584.7 892.8 1527.7 893.3 1575.4 893.8 1552.4 894.4 1608.3 894.9 1561.2 895.4 1597.6 895.9 1551.9 896.4 1599.9 896.8 1570.2 897.3 1612.1 897.7 1577.3 898.2 1596.7 898.6 1569.4 899.2 1609.1 899.7 1596.3 900.2 1633.5 900.8 1655.1 901.5 1638.4 902.1 1664.6 902.6 1628.2 903.2 1644.9 903.7 1598.5 904.1 1625.2 904.6 1607.9 905.0 1637.4 905.5 1598.3 905.9 1620.7 906.4 1571.4 906.9 1588.9 907.4 1582.3 908.0 1598.5 908.3 1641.3 908.6 1627.7 908.9 1676.2 909.4 1609.3 909.8 1660.7 910.3 1592.7 910.9 1600.8 911.6 1596.3 912.2 1602.4 912.7 1635.9 913.3 1612.1 913.8 1643.2 914.4 1621.4 915.1 1634.4 915.7 1610.2 916.5 1576.4 917.3 1597.2 918.1 1570.4 918.6 1645.2 919.1 1602.0 919.6 1684.0 920.3 1642.2 920.9 1673.1 921.6 1618.0 922.3 1610.1 923.1 1612.5 923.9 1604.4 924.4 1627.8 924.9 1620.3 925.4 1641.3 926.1 1657.0 926.7 1647.1 927.4 1666.5 927.9 1620.1 928.4 1652.8 928.9 1600.5 929.4 1567.1 929.8 1578.4 930.3 1550.0 932.2 1546.1 932.9 1592.0 933.5 1568.3 934.2 1602.4 934.6 1565.1 935.1 1581.0 935.5 1551.9 936.0 1585.9 936.6 1564.8 937.1 1592.7 937.6 1570.4 938.1 1587.9 938.6 1563.6 939.3 1518.8 939.9 1547.0 940.6 1505.3 941.9 1511.2 942.4 1559.4 942.8 1532.5 943.3 1573.3 943.8 1625.2 944.3 1586.7 944.9 1654.9 945.4 1617.9 945.9 1646.4 946.4 1610.2 946.9 1645.1 947.3 1623.0 947.8 1660.7 948.3 1676.8 948.8 1670.1 949.3 1685.9 949.6 1574.6 950.0 1655.8 950.3 1553.9 950.7 1497.3 951.2 1535.7 951.7 1478.2 952.3 1600.7 952.9 1524.0 953.6 1649.0 953.9 1581.4 954.2 1626.7 954.6 1536.4 956.1 1532.5 956.6 1584.8 957.0 1568.6 957.5 1618.0 957.9 1580.0 958.4 1606.2 958.8 1563.6 959.3 1603.5 959.9 1585.4 960.4 1612.1 960.9 1562.9 961.4 1598.4 961.9 1540.3 962.4 1567.4 962.8 1548.2 963.3 1585.0 963.9 1557.1 964.6 1577.4 965.2 1542.2 965.6 1567.6 965.9 1551.5 966.2 1583.0 966.7 1549.4 967.2 1563.6 967.8 1536.4 968.2 1563.5 968.7 1546.0 969.1 1571.4 969.6 1589.7 970.0 1579.7 970.5 1598.5 970.9 1612.7 971.3 1603.9 971.7 1619.9 972.1 1596.7 972.5 1610.4 973.0 1579.1 973.5 1551.4 973.9 1572.9 974.4 1546.1 974.9 1563.8 975.4 1554.7 975.9 1571.4 976.2 1536.8 976.6 1562.2 976.9 1528.6 977.3 1540.9 977.8 1533.0 978.3 1548.1 978.6 1565.0 979.0 1555.2 979.4 1573.3 979.9 1521.3 980.3 1548.2 980.8 1511.2 981.4 1500.1 982.1 1509.0 982.7 1497.6 983.2 1529.1 983.6 1518.0 984.1 1553.9 984.6 1522.1 985.1 1542.5 985.6 1515.0 986.1 1543.2 986.7 1520.9 987.2 1553.9 988.5 1551.9 989.0 1518.2 989.4 1530.3 989.9 1501.5 991.5 1505.3 992.1 1536.3 992.7 1521.1 993.4 1544.2 993.7 1583.4 994.0 1554.6 994.4 1590.8 994.8 1563.6 995.3 1581.6 995.7 1544.2 996.4 1505.8 997.0 1524.9 997.7 1489.8 998.2 1507.6 998.7 1497.6 999.2 1511.2 1000.8 1505.3 1001.2 1545.8 1001.7 1526.0 1002.1 1559.7 1002.6 1573.1 1003.0 1565.8 1003.5 1579.1 1004.0 1598.8 1004.5 1592.6 1005.0 1614.1 1005.6 1570.8 1006.1 1584.3 1006.6 1544.2 1006.9 1525.4 1007.1 1538.1 1007.4 1518.9 1007.9 1552.1 1008.4 1531.6 1008.9 1575.2 1010.9 1573.3 1011.4 1546.0 1011.9 1560.0 1012.4 1536.4 1012.9 1552.3 1013.3 1541.1 1013.8 1563.6 1014.4 1533.4 1015.1 1549.7 1015.7 1520.9 1016.2 1549.3 1016.6 1530.1 1017.1 1563.6 1017.6 1592.0 1018.1 1569.5 1018.6 1602.4 1019.2 1572.6 1019.7 1589.0 1020.2 1555.8 1021.6 1555.8 1022.0 1594.9 1022.5 1571.8 1022.9 1602.4 1023.3 1642.0 1023.7 1616.6 1024.1 1651.0 1024.5 1614.8 1025.0 1637.9 1025.4 1592.7 1025.8 1490.2 1026.1 1548.5 1026.4 1470.4 1027.0 1573.9 1027.7 1495.6 1028.3 1631.6 1029.9 1633.5 1030.4 1571.0 1030.8 1602.0 1031.3 1544.2 1031.7 1528.4 1032.2 1538.9 1032.6 1520.9 1033.1 1532.5 1033.6 1527.5 1034.2 1536.4 1034.8 1564.0 1035.5 1543.6 1036.1 1581.1 1036.6 1522.9 1037.1 1556.4 1037.7 1491.7 1038.1 1519.6 1038.6 1499.5 1039.0 1528.6 1039.5 1496.5 1039.9 1513.5 1040.4 1487.9 1041.0 1478.3 1041.7 1485.0 1042.3 1474.3 1043.9 1474.3 1044.4 1564.1 1044.9 1500.3 1045.4 1581.1 1046.1 1588.8 1046.7 1583.2 1047.4 1590.8 1048.0 1569.2 1048.7 1577.6 1049.3 1555.8 1050.0 1599.2 1050.6 1585.4 1051.3 1623.8 1051.9 1573.6 1052.5 1609.0 1053.2 1551.9 1053.7 1546.0 1054.1 1549.3 1054.6 1542.2 1055.2 1559.7 1055.8 1552.4 1056.5 1565.5 1057.1 1539.0 1057.8 1553.6 1058.4 1520.9 1059.1 1548.3 1059.7 1540.6 1060.4 1565.5 1060.7 1501.1 1061.0 1547.5 1061.4 1456.8 1061.9 1526.3 1062.4 1489.6 1062.9 1579.1 1063.6 1534.6 1064.2 1556.6 1064.9 1524.8 1065.5 1571.1 1066.1 1551.8 1066.8 1585.0 1067.2 1486.7 1067.7 1555.5 1068.2 1466.5 1068.6 1427.7 1069.1 1438.9 1069.5 1402.4 1070.2 1411.4 1070.8 1404.3 1071.5 1414.1 1072.0 1467.9 1072.5 1433.0 1073.0 1485.9 1073.7 1453.8 1074.3 1473.8 1075.0 1437.4 1075.5 1475.9 1076.0 1447.0 1076.5 1501.5 1077.5 1502.4 1078.1 1461.8 1078.8 1486.1 1079.4 1438.3 1080.1 1488.7 1080.7 1449.6 1081.4 1498.5 1081.9 1430.1 1082.4 1481.2 1082.9 1417.0 1083.4 1447.6 1083.8 1435.5 1084.3 1463.6 1084.7 1448.1 1085.2 1458.2 1085.6 1444.2 1086.1 1466.1 1086.7 1455.5 1087.2 1483.0 1087.8 1440.6 1088.5 1455.7 1089.1 1418.9 1089.6 1456.7 1090.2 1435.0 1090.7 1481.1 1091.1 1452.4 1091.6 1475.5 1092.0 1446.1 1092.7 1474.9 1093.3 1462.9 1094.0 1488.8 1094.6 1441.9 1095.3 1479.1 1095.9 1428.6 1096.4 1446.1 1096.8 1433.9 1097.3 1459.7 1097.8 1519.1 1098.3 1476.0 1098.8 1531.6 1099.5 1564.6 1100.1 1549.5 1100.8 1574.3 1101.3 1514.8 1101.8 1553.1 1102.3 1483.0 1103.0 1466.8 1103.6 1476.5 1104.3 1463.6 1104.7 1434.3 1105.2 1446.6 1105.6 1417.0 1106.3 1434.5 1106.9 1423.3 1107.6 1444.2 1108.0 1472.0 1108.5 1463.2 1108.9 1494.7 1109.6 1461.0 1110.2 1480.8 1110.9 1453.9 1111.4 1423.2 1111.9 1448.1 1112.4 1417.0 1113.2 1377.3 1114.0 1398.2 1114.8 1352.9 1115.4 1445.6 1116.0 1401.2 1116.7 1463.6 1117.2 1483.0 1117.7 1470.2 1118.3 1492.7 1118.9 1509.9 1119.5 1500.2 1120.2 1518.0 1120.7 1464.9 1121.2 1504.8 1121.7 1453.9 1122.2 1412.4 1122.6 1434.4 1123.1 1401.5 1123.7 1412.3 1124.4 1406.6 1125.0 1415.0 1125.5 1436.4 1125.9 1422.3 1126.4 1444.2 1126.9 1469.3 1127.4 1454.2 1128.0 1483.0 1128.6 1495.2 1129.2 1485.7 1129.9 1498.5 1130.4 1505.6 1130.9 1502.9 1131.5 1510.2 1131.9 1493.2 1132.4 1505.6 1132.8 1483.0 1133.3 1463.4 1133.7 1472.0 1134.2 1448.1 1134.7 1455.6 1135.2 1453.2 1135.7 1459.7 1136.2 1416.2 1136.6 1435.9 1137.1 1406.3 1137.6 1438.7 1138.1 1415.3 1138.6 1457.8 1140.0 1461.7 1140.5 1443.7 1141.0 1452.3 1141.6 1430.6 1142.2 1417.2 1142.8 1425.6 1143.5 1413.1 1143.9 1449.2 1144.4 1429.1 1144.9 1471.4 1145.4 1444.2 1145.9 1458.4 1146.4 1434.5 1147.8 1440.3 1148.3 1489.9 1148.8 1466.2 1149.3 1504.4 1150.0 1463.6 1150.6 1494.2 1151.3 1450.0 1151.8 1490.5 1152.3 1462.0 1152.8 1500.5 1153.3 1517.3 1153.7 1506.6 1154.2 1523.8 1154.6 1462.4 1155.1 1507.1 1155.5 1444.2 1157.1 1442.2 1157.6 1472.5 1158.1 1453.1 1158.6 1490.8 1159.3 1465.3 1159.9 1473.0 1160.6 1448.1 1161.0 1486.0 1161.5 1461.1 1161.9 1500.5 1162.6 1448.5 1163.2 1465.7 1163.9 1422.8 1164.3 1451.4 1164.8 1431.8 1165.2 1463.6 1165.8 1495.9 1166.3 1477.7 1166.8 1504.4 1167.3 1432.0 1167.8 1488.9 1168.3 1418.9 1168.8 1443.1 1169.2 1432.8 1169.7 1453.9 1170.3 1400.1 1171.0 1425.5 1171.7 1386.9 1172.1 1400.5 1172.5 1392.7 1173.0 1411.2 1173.5 1436.2 1174.0 1420.0 1174.6 1453.9 1175.2 1527.4 1175.8 1482.3 1176.5 1541.3 1178.1 1545.1 1178.5 1509.7 1179.0 1534.0 1179.4 1502.4 1179.9 1411.2 1180.3 1470.4 1180.8 1389.8 1181.3 1448.3 1181.8 1425.5 1182.3 1483.0 1182.8 1538.1 1183.4 1495.0 1183.9 1549.0 1184.3 1486.8 1184.8 1520.3 1185.2 1463.6 1185.7 1438.5 1186.1 1453.0 1186.6 1422.8 1187.1 1457.3 1187.6 1435.1 1188.2 1481.1 1188.7 1444.6 1189.2 1461.9 1189.7 1422.8 1191.7 1421.8 1192.1 1453.0 1192.5 1430.7 1193.0 1463.6 1193.7 1488.3 1194.3 1474.7 1195.0 1508.3 1195.6 1400.0 1196.2 1478.7 1196.9 1364.6 1197.3 1395.8 1197.8 1374.8 1198.3 1413.1 1198.8 1449.9 1199.3 1427.8 1199.8 1459.7 1200.4 1426.6 1201.1 1449.2 1201.7 1401.5 1202.3 1411.8 1202.8 1406.4 1203.3 1417.0 1203.7 1370.9 1204.2 1406.0 1204.7 1354.9 1205.1 1367.7 1205.6 1362.5 1206.0 1376.2 1206.5 1386.7 1207.0 1379.9 1207.6 1391.7 1208.1 1368.1 1208.6 1375.7 1209.1 1354.9 1209.6 1368.6 1210.0 1361.7 1210.5 1376.2 1210.9 1322.6 1211.4 1353.8 1211.8 1294.7 1212.4 1333.9 1212.9 1316.5 1213.4 1343.2 1213.7 1329.1 1214.0 1338.7 1214.4 1321.8 1214.8 1380.0 1215.3 1337.8 1215.7 1397.6 1216.2 1379.4 1216.8 1383.7 1217.3 1364.6 1217.8 1419.8 1218.3 1396.9 1218.8 1446.1 1219.5 1399.2 1220.1 1417.1 1220.8 1376.2 1222.7 1374.3 1223.4 1423.7 1224.0 1388.6 1224.7 1446.1 1225.3 1412.7 1225.9 1427.1 1226.6 1385.9 1227.1 1357.1 1227.6 1369.5 1228.2 1347.1 1228.5 1369.5 1228.9 1360.2 1229.3 1385.9 1229.8 1361.5 1230.3 1374.8 1230.9 1349.0 1231.5 1335.2 1232.2 1343.6 1232.8 1325.7 1233.3 1361.4 1233.8 1347.3 1234.4 1376.2 1235.0 1413.5 1235.7 1395.3 1236.3 1440.3 1236.8 1397.3 1237.2 1416.4 1237.7 1385.9 1238.1 1370.5 1238.6 1381.2 1239.0 1360.7 1239.5 1406.0 1240.1 1384.7 1240.6 1415.0 1241.1 1377.3 1241.6 1406.0 1242.1 1360.7 1242.6 1397.7 1243.0 1372.6 1243.5 1405.3 1243.9 1355.9 1244.4 1385.1 1244.9 1345.1 1245.5 1417.9 1246.1 1363.2 1246.8 1436.4 1247.2 1396.7 1247.6 1425.5 1248.0 1385.9 1248.6 1432.9 1249.2 1414.2 1249.9 1455.8 1250.4 1400.0 1250.8 1441.5 1251.3 1385.9 1251.7 1350.7 1252.2 1370.5 1252.6 1328.6 1253.1 1369.0 1253.6 1343.8 1254.2 1385.9 1254.7 1432.6 1255.2 1403.8 1255.7 1465.5 1256.2 1419.3 1256.6 1440.3 1257.1 1405.3 1257.5 1377.0 1258.0 1389.2 1258.4 1354.9 1259.0 1398.6 1259.5 1363.9 1260.0 1411.2 1260.6 1450.1 1261.3 1420.2 1261.9 1459.7 1262.5 1417.2 1263.0 1441.4 1263.5 1401.5 1264.1 1380.0 1264.8 1394.4 1265.4 1372.3 1265.9 1394.6 1266.3 1383.1 1266.8 1405.3 1267.4 1415.9 1268.1 1410.7 1268.7 1420.9 1269.2 1379.7 1269.6 1403.9 1270.1 1360.7 1270.7 1378.0 1271.4 1371.1 1272.0 1391.7 1272.6 1359.3 1273.1 1381.5 1273.6 1345.1 1274.2 1387.5 1274.9 1366.0 1275.5 1399.5 1276.0 1423.5 1276.6 1406.6 1277.1 1434.5 1277.7 1400.9 1278.4 1425.6 1279.0 1385.9 1279.5 1421.3 1279.9 1402.7 1280.4 1446.1 1281.0 1391.2 1281.7 1419.2 1282.3 1351.0 1282.8 1389.2 1283.2 1359.8 1283.7 1405.3 1284.2 1460.0 1284.7 1418.2 1285.2 1479.1 1285.8 1410.3 1286.3 1444.9 1286.8 1389.8 1287.6 1378.9 1288.3 1387.2 1289.1 1374.3 1289.8 1408.3 1290.4 1387.1 1291.1 1422.8 1291.4 1393.6 1291.7 1416.1 1292.0 1387.9 1292.7 1433.3 1293.3 1413.1 1294.0 1444.2 1294.6 1426.2 1295.3 1435.0 1295.9 1420.9 1296.4 1456.3 1296.8 1446.8 1297.3 1479.1 1298.4 1477.7 1298.8 1446.5 1299.1 1458.2 1299.4 1433.0 1301.0 1436.9 1301.6 1446.5 1302.3 1439.2 1302.9 1448.5 1303.4 1514.2 1303.8 1484.4 1304.3 1532.0 1304.7 1486.7 1305.2 1511.7 1305.6 1452.4 1306.1 1482.6 1306.7 1460.1 1307.2 1491.3 1307.7 1427.7 1308.2 1473.2 1308.7 1413.6 1309.2 1390.4 1309.6 1408.0 1310.1 1384.5 1310.5 1418.5 1311.0 1405.1 1311.5 1433.0 1312.0 1415.2 1312.5 1426.3 1313.0 1403.9 1313.5 1465.2 1314.0 1425.4 1314.6 1491.3 1314.9 1535.9 1315.3 1507.6 1315.7 1570.9 1316.2 1523.2 1316.8 1536.6 1317.3 1491.3 1317.8 1514.7 1318.3 1504.3 1318.8 1522.3 1319.3 1451.2 1319.9 1476.7 1320.4 1403.9 1320.8 1444.7 1321.3 1425.5 1321.7 1473.8 1322.2 1432.1 1322.6 1459.3 1323.1 1417.5 1323.6 1458.5 1324.1 1433.5 1324.7 1468.0 1326.6 1468.0 1327.1 1421.6 1327.6 1441.4 1328.2 1403.9 1328.8 1398.2 1329.4 1399.5 1330.1 1394.2 1330.5 1434.3 1331.0 1408.8 1331.5 1448.5 1331.9 1402.6 1332.4 1435.2 1332.8 1390.3 1333.3 1447.9 1333.8 1412.3 1334.4 1458.3 1335.0 1440.4 1335.7 1447.9 1336.3 1431.1 1336.8 1481.4 1337.3 1446.0 1337.9 1504.9 1338.3 1494.3 1338.8 1502.6 1339.2 1491.3 1339.7 1444.9 1340.1 1478.1 1340.6 1433.0 1341.1 1427.2 1341.6 1429.6 1342.1 1425.2 1342.6 1461.9 1343.2 1442.9 1343.7 1475.7 1344.1 1450.7 1344.6 1469.9 1345.0 1436.9 1345.5 1456.5 1345.9 1443.7 1346.4 1471.8 1348.0 1468.0 1348.5 1416.6 1349.0 1448.4 1349.5 1398.1 1350.0 1428.1 1350.4 1415.9 1350.9 1440.8 1351.3 1407.6 1351.8 1428.5 1352.2 1384.5 1352.7 1419.2 1353.3 1391.8 1353.8 1431.1 1354.4 1421.4 1355.1 1426.6 1355.7 1413.6 1356.2 1396.6 1356.8 1406.1 1357.3 1384.5 1357.7 1359.9 1358.2 1371.5 1358.6 1344.7 1359.1 1349.6 1359.5 1346.1 1360.0 1351.5 1360.5 1368.6 1361.0 1358.3 1361.6 1374.8 1362.1 1381.6 1362.6 1379.8 1363.1 1386.4 1363.6 1397.3 1364.0 1389.8 1364.5 1403.9 1364.9 1421.9 1365.4 1414.5 1365.8 1435.0 1366.3 1395.6 1366.9 1416.3 1367.4 1386.4 1367.9 1404.6 1368.4 1392.6 1368.9 1413.6 1369.4 1397.5 1369.8 1403.6 1370.3 1384.5 1370.7 1364.9 1371.2 1377.5 1371.7 1357.3 1372.0 1367.4 1372.4 1361.1 1372.8 1370.9 1373.3 1454.8 1373.8 1408.2 1374.4 1471.8 1374.9 1418.5 1375.5 1435.9 1376.1 1386.4 1376.6 1377.7 1377.0 1381.6 1377.5 1370.9 1378.0 1386.5 1378.5 1376.0 1379.0 1394.2 1379.5 1419.5 1380.1 1411.3 1380.6 1438.8 1381.2 1476.5 1381.7 1460.3 1382.3 1506.8 1382.8 1440.5 1383.4 1491.5 1383.9 1427.2 1384.3 1395.2 1384.8 1409.8 1385.2 1374.8 1386.8 1372.8 1387.3 1411.0 1387.8 1391.4 1388.3 1427.2 1388.8 1377.1 1389.2 1414.4 1389.7 1364.1 1390.2 1402.1 1390.6 1378.3 1391.1 1423.3 1391.6 1441.9 1392.1 1437.1 1392.6 1456.3 1393.3 1401.4 1393.9 1430.8 1394.6 1386.4 1395.1 1372.5 1395.6 1376.2 1396.1 1361.2 1396.6 1395.7 1397.0 1374.1 1397.5 1405.8 1398.8 1401.9 1399.3 1377.9 1399.9 1393.1 1400.4 1370.9 1400.9 1397.3 1401.4 1378.6 1401.9 1413.6 1402.4 1432.8 1402.8 1418.6 1403.3 1444.7 1403.8 1351.2 1404.3 1390.8 1404.9 1301.0 1405.3 1352.5 1405.8 1328.4 1406.2 1368.9 1406.7 1314.1 1407.2 1352.4 1407.8 1297.1 1408.2 1375.0 1408.7 1327.6 1409.1 1405.8 1409.6 1425.7 1410.0 1413.6 1410.5 1431.1 1411.0 1426.2 1411.5 1428.4 1412.0 1423.3 1412.6 1358.1 1413.1 1406.6 1413.6 1345.6 1415.0 1339.8 1415.4 1360.4 1415.8 1343.7 1416.3 1365.0 1416.8 1413.8 1417.3 1382.2 1417.9 1442.7 1418.4 1405.2 1418.9 1421.7 1419.4 1394.2 1419.9 1374.6 1420.3 1387.9 1420.8 1368.9 1422.1 1365.0 1422.5 1404.6 1422.9 1377.1 1423.3 1413.6 1423.7 1426.9 1424.2 1422.6 1424.7 1435.0 1425.1 1412.0 1425.6 1423.8 1426.0 1403.9 1426.5 1360.9 1427.0 1378.5 1427.6 1346.6 1428.1 1379.5 1428.6 1365.7 1429.1 1394.2 1429.6 1423.7 1430.0 1410.0 1430.5 1433.0 1430.9 1460.8 1431.4 1448.0 1431.8 1473.8 1432.4 1444.4 1432.9 1463.9 1433.4 1433.0 1433.9 1399.6 1434.4 1414.7 1435.0 1378.6 1435.4 1390.9 1435.8 1387.7 1436.3 1400.0 1436.8 1377.0 1437.2 1393.9 1437.7 1361.2 1438.2 1391.7 1438.7 1383.6 1439.2 1413.6 1439.7 1440.2 1440.2 1421.4 1440.8 1454.4 1441.2 1431.6 1441.7 1447.7 1442.1 1413.6 1442.6 1351.8 1443.2 1385.9 1443.7 1332.0 1444.5 1315.8 1445.2 1324.1 1446.0 1310.7 1446.5 1373.7 1446.9 1346.9 1447.4 1421.4 1448.9 1423.3 1449.4 1416.9 1450.0 1419.5 1450.5 1413.6 1450.9 1358.0 1451.4 1384.4 1451.8 1343.7 1452.4 1368.0 1452.9 1361.2 1453.4 1386.4 1453.8 1404.0 1454.3 1395.7 1454.8 1407.8 1455.3 1364.8 1455.8 1392.1 1456.3 1334.0 1456.8 1389.5 1457.2 1349.2 1457.7 1429.1 1458.1 1380.7 1458.6 1405.4 1459.0 1368.9 1459.5 1396.2 1460.1 1383.6 1460.6 1405.8 1461.1 1375.7 1461.6 1396.2 1462.1 1365.0 1462.6 1389.8 1463.0 1372.7 1463.5 1407.8 1464.1 1365.5 1464.8 1396.3 1465.4 1353.4 1466.1 1342.7 1466.7 1348.8 1467.4 1336.9 1467.8 1374.2 1468.3 1352.1 1468.7 1403.9 1469.3 1423.6 1469.8 1415.2 1470.3 1435.0 1470.6 1441.4 1470.9 1437.3 1471.3 1444.7 1471.7 1402.3 1472.2 1429.5 1472.6 1394.2 1473.1 1325.4 1473.6 1365.5 1474.2 1308.7 1475.7 1306.8 1476.2 1337.2 1476.6 1321.7 1477.1 1361.2 1477.5 1344.0 1478.0 1351.5 1478.4 1335.9 1478.8 1309.3 1479.2 1321.2 1479.6 1295.1 1480.1 1333.8 1480.5 1306.8 1481.0 1349.5 1481.4 1373.1 1481.9 1354.7 1482.3 1378.6 1482.8 1384.8 1483.4 1380.2 1483.9 1386.4 1484.4 1380.0 1484.9 1384.0 1485.4 1374.8 1486.1 1329.4 1486.7 1348.9 1487.4 1316.5 1487.8 1359.3 1488.3 1339.6 1488.7 1394.2 1489.1 1441.6 1489.4 1420.6 1489.7 1462.1 1490.2 1425.7 1490.7 1444.2 1491.3 1401.9 1493.2 1400.0 1493.8 1421.6 1494.5 1413.2 1495.1 1433.0 1495.6 1455.0 1496.0 1448.1 1496.5 1468.0 1497.1 1414.9 1497.8 1450.1 1498.4 1384.5 1499.8 1378.6 1500.3 1397.8 1500.8 1386.2 1501.4 1403.9 1502.0 1432.2 1502.6 1420.4 1503.3 1452.4 1503.9 1413.4 1504.6 1426.2 1505.2 1384.5 1505.8 1341.7 1506.3 1362.7 1506.8 1328.2 1507.2 1355.4 1507.7 1337.6 1508.2 1365.0 1508.6 1352.0 1509.1 1359.8 1509.5 1345.6 1509.9 1380.5 1510.3 1353.1 1510.7 1388.3 1511.1 1361.4 1511.6 1383.1 1512.0 1355.3 1514.0 1353.4 1514.4 1387.9 1514.9 1366.3 1515.3 1409.7 1515.9 1389.0 1516.4 1402.1 1516.9 1384.5 1517.2 1433.4 1517.5 1415.1 1517.9 1458.3 1518.4 1430.6 1518.9 1445.4 1519.4 1413.6 1519.9 1399.8 1520.4 1406.3 1521.0 1394.2 1521.4 1373.1 1521.9 1384.8 1522.3 1367.0 1522.8 1387.3 1523.2 1374.7 1523.7 1398.1 1524.2 1370.3 1524.7 1379.3 1525.2 1351.5 1525.8 1364.5 1526.3 1358.0 1526.8 1368.9 1527.2 1343.3 1527.7 1356.9 1528.2 1326.2 1528.6 1358.1 1529.1 1339.4 1529.5 1367.0 1529.9 1331.6 1530.3 1349.6 1530.7 1306.8 1531.1 1272.0 1531.6 1297.3 1532.0 1264.1 1532.5 1331.3 1532.9 1290.7 1533.4 1374.8 1533.9 1337.8 1534.4 1355.2 1535.0 1326.2 1535.5 1345.9 1536.0 1332.7 1536.5 1359.2 1537.0 1348.3 1537.4 1354.9 1537.9 1341.7 1538.3 1362.3 1538.8 1347.5 1539.2 1370.9 1539.7 1389.8 1540.2 1376.9 1540.8 1400.0 1541.3 1408.2 1541.8 1403.6 1542.3 1409.7 1542.8 1404.1 1543.2 1405.4 1543.7 1400.0 1544.3 1405.6 1545.0 1402.6 1545.6 1409.7 1546.3 1334.2 1546.9 1375.0 1547.6 1320.4 1548.0 1377.2 1548.5 1341.1 1548.9 1394.2 1549.3 1439.1 1549.7 1419.4 1550.1 1468.0 1550.5 1447.6 1551.0 1460.6 1551.5 1433.0 1551.9 1420.1 1552.4 1429.9 1552.8 1413.6 1553.3 1387.6 1553.8 1398.6 1554.4 1374.8 1555.0 1336.5 1555.7 1359.6 1556.3 1324.3 1556.8 1370.2 1557.3 1342.2 1557.9 1386.4 1558.3 1356.5 1558.8 1369.7 1559.2 1335.9 1559.7 1369.8 1560.1 1354.7 1560.6 1386.4 1561.1 1332.1 1561.6 1368.0 1562.1 1320.4 1562.6 1345.6 1563.2 1333.5 1563.7 1355.3 1564.1 1401.3 1564.6 1370.2 1565.0 1423.3 1565.5 1371.2 1565.9 1395.2 1566.4 1355.3 1566.9 1416.1 1567.4 1383.3 1568.0 1433.0 1568.5 1458.0 1569.0 1444.0 1569.5 1464.1 1570.0 1426.6 1570.4 1449.6 1570.9 1413.6 1571.3 1383.6 1571.8 1397.8 1572.2 1367.0 1572.6 1418.7 1573.0 1391.6 1573.4 1456.3 1573.8 1450.2 1574.3 1453.5 1574.8 1448.5 1575.2 1457.2 1575.7 1451.2 1576.1 1460.2 1576.6 1423.4 1577.1 1444.6 1577.7 1405.8 1578.2 1447.3 1578.7 1421.2 1579.2 1462.1 1579.7 1492.8 1580.1 1479.6 1580.6 1502.9 1581.0 1473.5 1581.5 1486.1 1581.9 1454.4 1582.5 1498.5 1583.0 1469.4 1583.5 1510.7 1584.1 1533.7 1584.8 1525.3 1585.4 1543.7 1585.9 1492.5 1586.5 1515.1 1587.0 1452.4 1587.4 1487.3 1587.9 1474.8 1588.3 1510.7 1588.8 1442.8 1589.2 1485.7 1589.7 1429.1 1590.2 1476.5 1590.7 1455.4 1591.3 1510.7 1591.8 1483.0 1592.3 1496.5 1592.8 1471.8 1594.2 1473.8 1594.8 1505.2 1595.5 1489.1 1596.1 1518.4 1596.6 1450.2 1597.0 1492.3 1597.5 1433.0 1598.0 1413.4 1598.5 1420.4 1599.0 1403.9 1599.5 1387.2 1600.1 1394.2 1600.6 1376.7 1601.0 1414.3 1601.5 1398.0 1601.9 1433.0 1602.4 1417.1 1602.8 1420.9 1603.3 1405.8 1603.8 1425.0 1604.3 1410.7 1604.9 1435.0 1605.4 1416.5 1605.9 1427.1 1606.4 1405.8 1606.9 1437.0 1607.3 1421.3 1607.8 1462.1 1608.2 1487.1 1608.7 1475.4 1609.1 1499.0 1609.6 1481.2 1610.2 1492.8 1610.7 1471.8 1611.2 1451.5 1611.7 1459.6 1612.2 1438.8 1612.7 1459.8 1613.1 1446.6 1613.6 1464.1 1614.0 1454.5 1614.5 1458.0 1615.0 1448.5 1615.5 1404.5 1616.0 1434.4 1616.5 1382.5 1617.0 1406.5 1617.4 1398.1 1617.9 1423.3 1618.2 1454.1 1618.5 1436.5 1618.8 1462.1 1619.3 1425.9 1619.9 1445.4 1620.4 1409.7 1620.9 1418.1 1621.4 1415.7 1621.9 1423.3 1622.4 1467.9 1622.8 1446.5 1623.3 1491.3 1623.7 1438.7 1624.2 1465.2 1624.7 1425.2 1625.0 1386.4 1625.4 1411.8 1625.8 1368.9 1626.3 1400.8 1626.7 1377.3 1627.2 1413.6 1627.6 1482.0 1628.1 1435.5 1628.5 1499.0 1629.1 1427.1 1629.6 1478.5 1630.1 1409.7 1630.6 1450.9 1631.1 1423.8 1631.7 1471.8 1632.1 1425.8 1632.5 1457.9 1633.0 1403.9 1633.5 1377.1 1633.9 1386.1 1634.4 1355.3 1634.9 1350.4 1635.4 1353.6 1635.9 1347.6 1636.2 1284.1 1636.6 1318.5 1636.9 1248.5 1637.3 1347.4 1637.8 1298.2 1638.3 1394.2 1638.8 1355.0 1639.3 1380.6 1639.8 1341.7 1640.3 1385.2 1640.8 1363.1 1641.4 1394.2 1642.0 1421.7 1642.6 1413.5 1643.3 1442.7 1643.7 1386.9 1644.2 1416.5 1644.7 1374.8 1645.3 1349.5 1645.9 1357.7 1646.6 1332.0 1647.1 1363.6 1647.5 1338.6 1648.0 1374.8 1648.5 1396.3 1649.0 1391.7 1649.5 1413.6 1650.0 1374.4 1650.5 1401.8 1651.1 1361.2 1651.5 1400.6 1652.0 1374.3 1652.4 1429.1 1652.9 1385.8 1653.3 1402.4 1653.8 1359.2 1654.3 1387.2 1654.8 1367.6 1655.3 1401.9 1655.7 1357.3 1656.1 1380.9 1656.5 1347.6 1657.1 1363.9 1657.7 1358.9 1658.3 1374.8 1658.7 1474.3 1659.1 1427.0 1659.6 1510.7 1660.1 1467.0 1660.6 1486.3 1661.2 1452.4 1661.7 1467.7 1662.2 1460.2 1662.7 1471.8 1663.4 1495.5 1664.0 1485.7 1664.7 1510.7 1665.1 1545.1 1665.6 1528.8 1666.0 1559.2 1666.5 1512.9 1666.9 1531.0 1667.4 1491.3 1668.9 1495.1 1669.4 1460.4 1670.0 1484.0 1670.5 1446.6 1670.9 1486.3 1671.4 1458.9 1671.8 1510.7 1672.4 1437.5 1672.9 1493.1 1673.4 1405.8 1673.8 1438.0 1674.3 1414.8 1674.8 1452.4 1675.2 1418.6 1675.7 1437.9 1676.1 1403.9 1676.6 1493.7 1677.1 1455.5 1677.7 1530.1 1678.0 1503.3 1678.3 1510.6 1678.6 1481.6 1679.2 1427.9 1679.7 1456.8 1680.2 1403.9 1680.6 1454.8 1681.1 1431.2 1681.6 1471.8 1682.2 1448.7 1682.8 1462.2 1683.5 1436.9 1683.9 1482.5 1684.4 1446.3 1684.9 1491.3 1685.4 1510.0 1685.9 1499.9 1686.4 1516.5 1686.9 1480.7 1687.4 1495.2 1688.0 1452.4 1688.4 1467.1 1688.9 1460.8 1689.3 1471.8 1689.8 1427.7 1690.3 1441.6 1690.9 1403.9 1691.3 1444.8 1691.8 1421.1 1692.2 1462.1 1692.7 1492.4 1693.3 1468.0 1693.8 1499.0 1694.2 1463.4 1694.7 1483.3 1695.1 1452.4 1695.6 1484.1 1696.0 1472.3 1696.5 1501.0 1697.0 1475.3 1697.5 1489.6 1698.1 1462.1 1698.7 1482.7 1699.3 1473.2 1700.0 1491.3 1700.6 1467.4 1701.3 1480.4 1701.9 1452.4 1702.5 1447.2 1703.0 1450.0 1703.5 1444.7 1704.0 1488.0 1704.5 1457.6 1705.0 1499.0 1705.5 1461.8 1705.9 1486.4 1706.4 1452.4 1707.0 1482.4 1707.6 1462.3 1708.2 1495.1 1708.7 1482.9 1709.2 1487.4 1709.7 1477.7 1710.2 1419.7 1710.7 1447.6 1711.3 1400.0 1713.2 1396.1 1713.7 1431.4 1714.1 1409.4 1714.6 1450.5 1715.0 1414.5 1715.5 1432.1 1715.9 1394.2 1716.4 1411.4 1716.9 1403.2 1717.5 1417.5 1718.1 1391.3 1718.8 1400.4 1719.4 1370.9 1719.9 1389.9 1720.4 1378.2 1721.0 1394.2 1721.4 1427.1 1721.9 1408.2 1722.3 1452.4 1723.0 1463.1 1723.6 1456.4 1724.3 1471.8 1724.8 1439.8 1725.3 1458.9 1725.8 1433.0 1726.3 1462.0 1726.7 1448.0 1727.2 1471.8 1727.7 1436.7 1728.2 1457.6 1728.7 1429.1 1730.1 1433.0 1731.5 1427.2 1732.0 1465.7 1732.5 1444.9 1733.0 1479.6 1733.5 1444.2 1734.0 1464.3 1734.6 1433.0 1735.0 1471.1 1735.5 1443.8 1735.9 1483.5 1736.6 1416.5 1737.2 1457.8 1737.9 1394.2 1738.3 1439.5 1738.8 1404.7 1739.2 1452.4 1739.7 1417.2 1740.2 1443.0 1740.8 1394.2 1741.3 1464.1 1741.8 1432.1 1742.3 1483.5 1742.8 1418.2 1743.2 1460.7 1743.7 1396.1 1744.1 1448.7 1744.6 1421.6 1745.0 1462.1 1745.6 1431.4 1746.1 1452.4 1746.6 1419.4 1747.1 1481.6 1747.6 1446.3 1748.2 1516.5 1748.6 1477.6 1749.1 1499.7 1749.5 1456.3 1750.9 1456.3 1751.4 1501.0 1751.9 1482.2 1752.4 1516.5 1754.0 1518.4 1754.4 1464.6 1754.9 1488.0 1755.3 1423.3 1755.8 1413.5 1756.2 1420.1 1756.7 1405.8 1757.2 1442.8 1757.7 1420.9 1758.3 1452.4 1758.8 1465.3 1759.3 1456.8 1759.8 1468.0 1760.3 1442.1 1760.7 1455.6 1761.2 1421.4 1761.6 1441.1 1762.1 1433.1 1762.5 1448.5" fill="none" stroke="#000" stroke-width="4.4" stroke-linejoin="round" stroke-linecap="round"/><path d="M403.5 1981.5V1966.0M403.5 1137.0V1152.5M675.4 1981.5V1966.0M675.4 1137.0V1152.5M947.4 1981.5V1966.0M947.4 1137.0V1152.5M1219.3 1981.5V1966.0M1219.3 1137.0V1152.5M1491.3 1981.5V1966.0M1491.3 1137.0V1152.5M1763.2 1981.5V1966.0M1763.2 1137.0V1152.5M403.5 1981.5H419.0M1763.2 1981.5H1747.7M403.5 1860.9H419.0M1763.2 1860.9H1747.7M403.5 1740.2H419.0M1763.2 1740.2H1747.7M403.5 1619.6H419.0M1763.2 1619.6H1747.7M403.5 1498.9H419.0M1763.2 1498.9H1747.7M403.5 1378.3H419.0M1763.2 1378.3H1747.7M403.5 1257.6H419.0M1763.2 1257.6H1747.7M403.5 1137.0H419.0M1763.2 1137.0H1747.7" stroke="#262626" stroke-width="4.6" fill="none"/><rect x="403.5" y="1137.0" width="1359.7" height="844.5" fill="none" stroke="#262626" stroke-width="4.6" stroke-linejoin="miter"/><g font-family="Liberation Serif" font-size="61" fill="#262626" letter-spacing="3.3"><text x="376" y="918.3" text-anchor="end">88.3670</text><text x="376" y="797.7" text-anchor="end">88.3675</text><text x="376" y="677.1" text-anchor="end">88.3680</text><text x="376" y="556.5" text-anchor="end">88.3685</text><text x="376" y="435.8" text-anchor="end">88.3690</text><text x="376" y="315.2" text-anchor="end">88.3695</text><text x="376" y="194.6" text-anchor="end">88.3700</text><text x="376" y="74.0" text-anchor="end">88.3705</text><text x="407.2" y="963.5" text-anchor="middle">0</text><text x="667.4" y="963.5" text-anchor="middle">2000</text><text x="939.3" y="963.5" text-anchor="middle">4000</text><text x="1211.6" y="963.5" text-anchor="middle">6000</text><text x="1483.4" y="963.5" text-anchor="middle">8000</text><text x="1761.0" y="963.5" text-anchor="middle">10000</text><text x="376" y="1999.5" text-anchor="end">21.3651</text><text x="376" y="1878.9" text-anchor="end">21.3652</text><text x="376" y="1758.2" text-anchor="end">21.3653</text><text x="376" y="1637.6" text-anchor="end">21.3654</text><text x="376" y="1516.9" text-anchor="end">21.3655</text><text x="376" y="1396.3" text-anchor="end">21.3656</text><text x="376" y="1275.6" text-anchor="end">21.3657</text><text x="376" y="1155.0" text-anchor="end">21.3658</text><text x="407.2" y="2044.5" text-anchor="middle">0</text><text x="667.4" y="2044.5" text-anchor="middle">2000</text><text x="939.3" y="2044.5" text-anchor="middle">4000</text><text x="1211.6" y="2044.5" text-anchor="middle">6000</text><text x="1483.4" y="2044.5" text-anchor="middle">8000</text><text x="1761.0" y="2044.5" text-anchor="middle">10000</text></g><text font-family="Liberation Serif" font-size="66" font-style="italic" fill="#262626" x="1047" y="1045.6">t</text><line x1="1099.6" y1="1002.6" x2="1077.7" y2="1057.6" stroke="#262626" stroke-width="3.3" stroke-linecap="round"/><text font-family="Liberation Serif" font-size="60" fill="#262626" x="1106" y="1045.6" textLength="23" lengthAdjust="spacingAndGlyphs">s</text><text font-family="Liberation Serif" font-size="66" font-style="italic" fill="#262626" x="1047" y="2126.6">t</text><line x1="1099.6" y1="2083.6" x2="1077.7" y2="2138.6" stroke="#262626" stroke-width="3.3" stroke-linecap="round"/><text font-family="Liberation Serif" font-size="60" fill="#262626" x="1106" y="2126.6" textLength="23" lengthAdjust="spacingAndGlyphs">s</text><text font-family="Liberation Serif" font-size="60" font-style="italic" fill="#262626" transform="translate(104.1 560.5) rotate(-90)" textLength="26" lengthAdjust="spacingAndGlyphs">I</text><line x1="63.6" y1="507.9" x2="116.8" y2="529.4" stroke="#262626" stroke-width="3.3" stroke-linecap="round"/><text font-family="Liberation Serif" font-size="62" fill="#262626" transform="translate(104.1 498.8) rotate(-90)" textLength="98.5" lengthAdjust="spacingAndGlyphs">mA</text><text font-family="Liberation Serif" font-size="60" fill="#262626" transform="translate(96.5 1779) rotate(-90)" textLength="453.5" lengthAdjust="spacingAndGlyphs">Temperature/℃</text><text font-family="Liberation Serif" font-size="66" fill="#000" x="446" y="141.3" textLength="74" lengthAdjust="spacingAndGlyphs">(a)</text><text font-family="Liberation Serif" font-size="66" fill="#000" x="446" y="1213.2" textLength="78" lengthAdjust="spacingAndGlyphs">(b)</text></svg></body></html>
